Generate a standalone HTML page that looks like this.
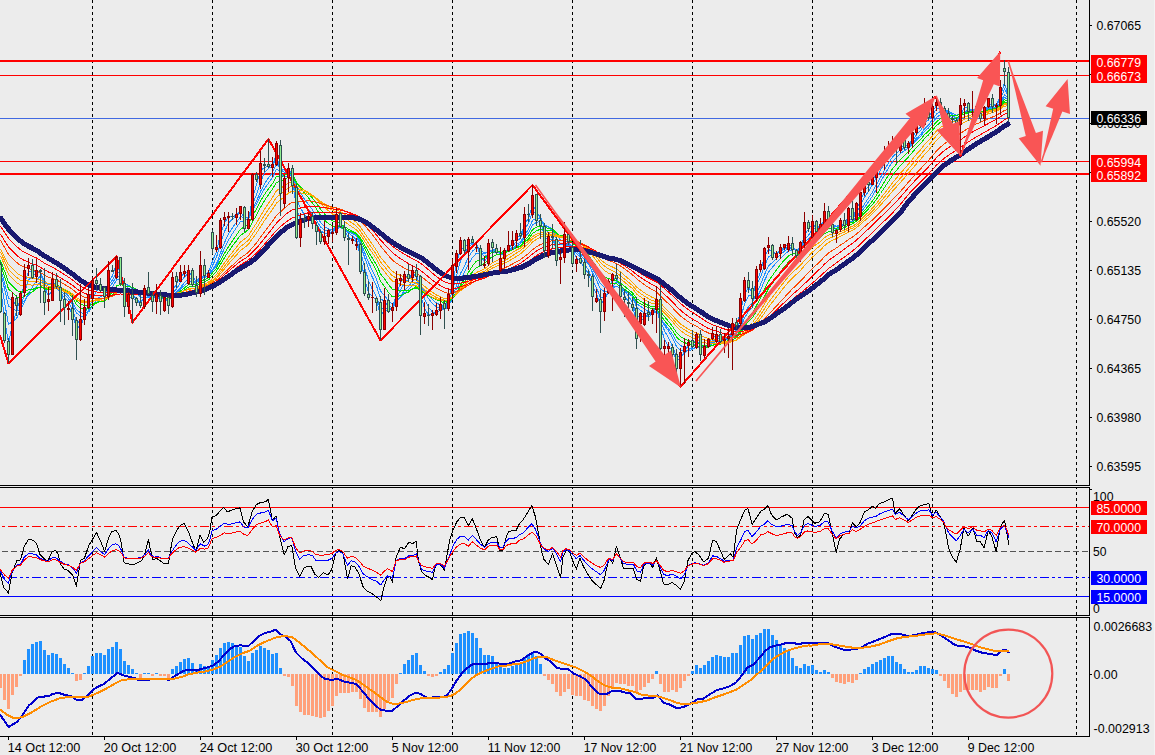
<!DOCTYPE html>
<html><head><meta charset="utf-8"><title>AUDUSD H4</title>
<style>html,body{margin:0;padding:0;background:#ececec;overflow:hidden}svg{display:block}</style></head>
<body>
<svg width="1155" height="755" viewBox="0 0 1155 755" font-family="'Liberation Sans', Arial, sans-serif" font-size="12.4px">
<rect width="1155" height="755" fill="#ececec"/>
<rect x="1154" y="0" width="1" height="755" fill="#f3f3f3"/>
<g stroke="#000" stroke-width="1" stroke-dasharray="3 3" shape-rendering="crispEdges">
<line x1="92.5" y1="0" x2="92.5" y2="485"/>
<line x1="92.5" y1="488" x2="92.5" y2="615" stroke-dashoffset="2"/>
<line x1="92.5" y1="618" x2="92.5" y2="736" stroke-dashoffset="0"/>
<line x1="212.5" y1="0" x2="212.5" y2="485"/>
<line x1="212.5" y1="488" x2="212.5" y2="615" stroke-dashoffset="2"/>
<line x1="212.5" y1="618" x2="212.5" y2="736" stroke-dashoffset="0"/>
<line x1="332.5" y1="0" x2="332.5" y2="485"/>
<line x1="332.5" y1="488" x2="332.5" y2="615" stroke-dashoffset="2"/>
<line x1="332.5" y1="618" x2="332.5" y2="736" stroke-dashoffset="0"/>
<line x1="452.5" y1="0" x2="452.5" y2="485"/>
<line x1="452.5" y1="488" x2="452.5" y2="615" stroke-dashoffset="2"/>
<line x1="452.5" y1="618" x2="452.5" y2="736" stroke-dashoffset="0"/>
<line x1="572.5" y1="0" x2="572.5" y2="485"/>
<line x1="572.5" y1="488" x2="572.5" y2="615" stroke-dashoffset="2"/>
<line x1="572.5" y1="618" x2="572.5" y2="736" stroke-dashoffset="0"/>
<line x1="692.5" y1="0" x2="692.5" y2="485"/>
<line x1="692.5" y1="488" x2="692.5" y2="615" stroke-dashoffset="2"/>
<line x1="692.5" y1="618" x2="692.5" y2="736" stroke-dashoffset="0"/>
<line x1="812.5" y1="0" x2="812.5" y2="485"/>
<line x1="812.5" y1="488" x2="812.5" y2="615" stroke-dashoffset="2"/>
<line x1="812.5" y1="618" x2="812.5" y2="736" stroke-dashoffset="0"/>
<line x1="932.5" y1="0" x2="932.5" y2="485"/>
<line x1="932.5" y1="488" x2="932.5" y2="615" stroke-dashoffset="2"/>
<line x1="932.5" y1="618" x2="932.5" y2="736" stroke-dashoffset="0"/>
<line x1="1076.5" y1="0" x2="1076.5" y2="485"/>
<line x1="1076.5" y1="488" x2="1076.5" y2="615" stroke-dashoffset="2"/>
<line x1="1076.5" y1="618" x2="1076.5" y2="736" stroke-dashoffset="0"/>
</g>
<g shape-rendering="crispEdges">
<rect x="0" y="60" width="1089" height="2" fill="#f00"/>
<rect x="0" y="75" width="1089" height="1" fill="#f00"/>
<rect x="0" y="118" width="1089" height="1" fill="#4169e1"/>
<rect x="0" y="161" width="1089" height="1" fill="#f00"/>
<rect x="0" y="173" width="1089" height="2" fill="#f00"/>
</g>
<g fill="none" stroke-width="1" shape-rendering="crispEdges">
<path d="M0.5,287.8 L4.5,318.5 L8.5,343.4 L12.5,324.0 L16.5,311.4 L20.5,298.0 L24.5,283.6 L28.5,271.4 L32.5,272.3 L36.5,271.7 L40.5,272.5 L44.5,287.4 L48.5,295.8 L52.5,289.5 L56.5,286.4 L60.5,292.7 L64.5,302.2 L68.5,306.7 L72.5,314.2 L76.5,327.9 L80.5,326.2 L84.5,316.7 L88.5,302.7 L92.5,289.4 L96.5,284.8 L100.5,287.3 L104.5,293.2 L108.5,283.0 L112.5,275.6 L116.5,264.2 L120.5,273.3 L124.5,291.3 L128.5,296.6 L132.5,298.4 L136.5,300.0 L140.5,304.0 L144.5,296.8 L148.5,294.2 L152.5,297.3 L156.5,296.6 L160.5,299.5 L164.5,298.4 L168.5,302.7 L172.5,290.2 L176.5,284.2 L180.5,276.4 L184.5,273.4 L188.5,270.9 L192.5,277.7 L196.5,286.7 L200.5,277.8 L204.5,275.0 L208.5,272.3 L212.5,261.1 L216.5,251.6 L220.5,233.6 L224.5,222.9 L228.5,216.9 L232.5,216.6 L236.5,215.4 L240.5,210.6 L244.5,219.0 L248.5,220.4 L252.5,198.3 L256.5,184.6 L260.5,170.7 L264.5,167.5 L268.5,166.2 L272.5,165.3 L276.5,154.0 L280.5,172.0 L284.5,177.4 L288.5,175.7 L292.5,178.9 L296.5,209.1 L300.5,219.8 L304.5,222.3 L308.5,217.4 L312.5,220.1 L316.5,226.6 L320.5,235.4 L324.5,237.1 L328.5,233.9 L332.5,231.8 L336.5,222.3 L340.5,223.1 L344.5,230.4 L348.5,237.5 L352.5,239.4 L356.5,241.5 L360.5,257.2 L364.5,278.3 L368.5,292.3 L372.5,296.6 L376.5,299.9 L380.5,315.2 L384.5,310.3 L388.5,310.8 L392.5,307.2 L396.5,293.6 L400.5,283.1 L404.5,276.2 L408.5,277.2 L412.5,273.8 L416.5,275.0 L420.5,295.4 L424.5,308.0 L428.5,315.3 L432.5,314.1 L436.5,311.9 L440.5,307.4 L444.5,307.4 L448.5,300.9 L452.5,282.4 L456.5,264.3 L460.5,248.8 L464.5,247.9 L468.5,243.3 L472.5,243.0 L476.5,244.5 L480.5,255.7 L484.5,261.8 L488.5,253.9 L492.5,249.4 L496.5,250.0 L500.5,254.9 L504.5,253.2 L508.5,249.0 L512.5,243.5 L516.5,237.4 L520.5,235.7 L524.5,224.6 L528.5,218.3 L532.5,205.0 L536.5,211.3 L540.5,218.8 L544.5,237.5 L548.5,239.3 L552.5,239.6 L556.5,249.1 L560.5,255.2 L564.5,246.4 L568.5,241.8 L572.5,251.3 L576.5,257.5 L580.5,261.6 L584.5,268.2 L588.5,273.3 L592.5,286.0 L596.5,293.9 L600.5,304.6 L604.5,299.9 L608.5,290.0 L612.5,279.7 L616.5,277.7 L620.5,286.9 L624.5,295.6 L628.5,301.8 L632.5,305.5 L636.5,322.7 L640.5,320.9 L644.5,317.5 L648.5,314.1 L652.5,312.0 L656.5,305.1 L660.5,325.9 L664.5,339.5 L668.5,346.8 L672.5,350.7 L676.5,360.6 L680.5,358.4 L684.5,351.7 L688.5,345.0 L692.5,344.9 L696.5,339.4 L700.5,346.6 L704.5,347.2 L708.5,344.4 L712.5,337.5 L716.5,334.8 L720.5,338.1 L724.5,339.2 L728.5,338.0 L732.5,330.1 L736.5,327.0 L740.5,311.9 L744.5,294.1 L748.5,287.5 L752.5,292.4 L756.5,282.4 L760.5,271.8 L764.5,257.0 L768.5,249.3 L772.5,252.2 L776.5,253.5 L780.5,251.2 L784.5,247.1 L788.5,244.6 L792.5,247.0 L796.5,252.2 L800.5,248.3 L804.5,234.6 L808.5,229.2 L812.5,224.0 L816.5,227.8 L820.5,226.2 L824.5,219.1 L828.5,219.4 L832.5,226.2 L836.5,230.1 L840.5,225.5 L844.5,224.9 L848.5,216.4 L852.5,217.4 L856.5,209.8 L860.5,200.8 L864.5,191.0 L868.5,186.5 L872.5,181.1 L876.5,173.2 L880.5,165.1 L884.5,157.2 L888.5,151.0 L892.5,146.0 L896.5,146.5 L900.5,145.6 L904.5,147.0 L908.5,144.9 L912.5,138.2 L916.5,130.5 L920.5,127.0 L924.5,119.0 L928.5,117.6 L932.5,111.1 L936.5,106.0 L940.5,105.6 L944.5,109.4 L948.5,114.6 L952.5,118.1 L956.5,121.8 L960.5,114.0 L964.5,107.4 L968.5,108.1 L972.5,110.5 L976.5,109.2 L980.5,113.7 L984.5,111.1 L988.5,104.8 L992.5,104.3 L996.5,104.5 L1000.5,96.3 L1004.5,82.7 L1008.5,97.6" stroke="#1e90ff"/>
<path d="M0.5,278.8 L4.5,302.0 L8.5,324.5 L12.5,321.4 L16.5,318.7 L20.5,308.9 L24.5,292.7 L28.5,279.7 L32.5,276.8 L36.5,272.6 L40.5,271.8 L44.5,282.5 L48.5,289.4 L52.5,287.6 L56.5,288.5 L60.5,292.7 L64.5,297.5 L68.5,301.8 L72.5,309.8 L76.5,321.4 L80.5,322.6 L84.5,318.8 L88.5,310.6 L92.5,298.6 L96.5,290.8 L100.5,288.9 L104.5,290.8 L108.5,284.5 L112.5,280.1 L116.5,271.5 L120.5,273.8 L124.5,284.0 L128.5,289.1 L132.5,294.4 L136.5,299.3 L140.5,302.3 L144.5,297.9 L148.5,296.5 L152.5,298.0 L156.5,296.2 L160.5,298.1 L164.5,298.5 L168.5,301.2 L172.5,293.5 L176.5,288.9 L180.5,282.2 L184.5,276.9 L188.5,273.0 L192.5,276.4 L196.5,282.1 L200.5,277.7 L204.5,277.2 L208.5,275.4 L212.5,265.5 L216.5,257.3 L220.5,243.4 L224.5,231.6 L228.5,223.2 L232.5,219.0 L236.5,216.0 L240.5,212.4 L244.5,217.5 L248.5,218.4 L252.5,204.1 L256.5,194.6 L260.5,181.9 L264.5,172.8 L268.5,168.3 L272.5,166.2 L276.5,157.9 L280.5,169.0 L284.5,172.6 L288.5,172.3 L292.5,178.0 L296.5,199.2 L300.5,207.9 L304.5,215.1 L308.5,218.2 L312.5,220.8 L316.5,224.0 L320.5,230.4 L324.5,233.5 L328.5,233.7 L332.5,233.3 L336.5,226.5 L340.5,225.2 L344.5,228.9 L348.5,233.0 L352.5,235.9 L356.5,239.9 L360.5,251.5 L364.5,267.1 L368.5,280.5 L372.5,289.6 L376.5,296.9 L380.5,309.2 L384.5,307.8 L388.5,309.9 L392.5,309.4 L396.5,299.1 L400.5,290.0 L404.5,283.0 L408.5,279.4 L412.5,275.0 L416.5,275.3 L420.5,288.8 L424.5,298.6 L428.5,307.1 L432.5,312.0 L436.5,312.8 L440.5,309.6 L444.5,308.9 L448.5,303.5 L452.5,290.0 L456.5,275.7 L460.5,260.7 L464.5,253.6 L468.5,246.3 L472.5,244.0 L476.5,244.6 L480.5,251.7 L484.5,256.6 L488.5,253.8 L492.5,252.4 L496.5,252.3 L500.5,253.3 L504.5,252.2 L508.5,250.4 L512.5,246.8 L516.5,241.3 L520.5,238.2 L524.5,229.3 L528.5,223.2 L532.5,212.3 L536.5,213.0 L540.5,216.0 L544.5,228.3 L548.5,233.1 L552.5,237.3 L556.5,246.1 L560.5,251.0 L564.5,246.3 L568.5,245.2 L572.5,250.8 L576.5,253.3 L580.5,257.1 L584.5,264.7 L588.5,269.9 L592.5,279.7 L596.5,287.8 L600.5,297.8 L604.5,298.2 L608.5,293.6 L612.5,286.4 L616.5,282.1 L620.5,285.0 L624.5,290.3 L628.5,296.4 L632.5,302.1 L636.5,315.7 L640.5,316.9 L644.5,317.1 L648.5,316.9 L652.5,314.2 L656.5,307.9 L660.5,320.9 L664.5,330.7 L668.5,338.1 L672.5,346.5 L676.5,356.4 L680.5,356.2 L684.5,353.4 L688.5,349.6 L692.5,347.5 L696.5,341.7 L700.5,345.4 L704.5,346.0 L708.5,344.3 L712.5,340.6 L716.5,338.2 L720.5,338.3 L724.5,338.2 L728.5,337.7 L732.5,333.1 L736.5,330.3 L740.5,318.7 L744.5,304.0 L748.5,296.0 L752.5,294.4 L756.5,284.6 L760.5,277.1 L764.5,266.4 L768.5,256.8 L772.5,254.5 L776.5,253.1 L780.5,251.0 L784.5,249.1 L788.5,247.0 L792.5,247.2 L796.5,250.0 L800.5,248.0 L804.5,239.6 L808.5,235.2 L812.5,228.8 L816.5,227.9 L820.5,226.2 L824.5,221.5 L828.5,221.3 L832.5,224.9 L836.5,226.8 L840.5,225.2 L844.5,226.2 L848.5,220.1 L852.5,219.0 L856.5,213.1 L860.5,205.4 L864.5,197.2 L868.5,191.5 L872.5,184.7 L876.5,177.4 L880.5,170.3 L884.5,162.8 L888.5,155.8 L892.5,150.0 L896.5,148.1 L900.5,146.2 L904.5,146.5 L908.5,145.3 L912.5,140.7 L916.5,134.8 L920.5,130.8 L924.5,123.1 L928.5,120.0 L932.5,114.4 L936.5,109.2 L940.5,107.5 L944.5,108.7 L948.5,111.6 L952.5,115.1 L956.5,119.2 L960.5,115.4 L964.5,111.2 L968.5,110.6 L972.5,110.1 L976.5,108.5 L980.5,112.3 L984.5,111.2 L988.5,106.8 L992.5,106.4 L996.5,105.4 L1000.5,98.6 L1004.5,89.2 L1008.5,97.1" stroke="#1e90ff"/>
<path d="M0.5,271.5 L4.5,288.6 L8.5,306.2 L12.5,308.2 L16.5,310.9 L20.5,309.4 L24.5,301.9 L28.5,293.1 L32.5,287.0 L36.5,280.1 L40.5,276.0 L44.5,280.7 L48.5,284.3 L52.5,283.8 L56.5,285.6 L60.5,289.9 L64.5,294.7 L68.5,298.7 L72.5,304.4 L76.5,313.0 L80.5,316.2 L84.5,316.2 L88.5,312.5 L92.5,305.4 L96.5,299.9 L100.5,296.4 L104.5,294.7 L108.5,287.9 L112.5,283.1 L116.5,276.6 L120.5,277.4 L124.5,283.3 L128.5,285.6 L132.5,288.8 L136.5,292.7 L140.5,297.2 L144.5,296.9 L148.5,297.3 L152.5,298.5 L156.5,297.2 L160.5,298.3 L164.5,298.0 L168.5,299.8 L172.5,295.1 L176.5,292.1 L180.5,287.3 L184.5,282.7 L188.5,278.8 L192.5,278.7 L196.5,281.0 L200.5,277.2 L204.5,276.8 L208.5,275.8 L212.5,269.8 L216.5,263.9 L220.5,252.9 L224.5,242.6 L228.5,234.0 L232.5,227.7 L236.5,222.2 L240.5,216.6 L244.5,217.9 L248.5,217.6 L252.5,208.1 L256.5,201.2 L260.5,191.6 L264.5,183.9 L268.5,177.8 L272.5,172.4 L276.5,163.6 L280.5,168.3 L284.5,170.2 L288.5,170.1 L292.5,174.2 L296.5,188.9 L300.5,197.6 L304.5,204.9 L308.5,209.9 L312.5,214.6 L316.5,220.5 L320.5,226.9 L324.5,229.9 L328.5,230.4 L332.5,231.4 L336.5,228.2 L340.5,227.9 L344.5,229.9 L348.5,231.9 L352.5,233.5 L356.5,236.1 L360.5,244.8 L364.5,257.0 L368.5,268.6 L372.5,277.5 L376.5,285.9 L380.5,298.3 L384.5,301.8 L388.5,306.2 L392.5,307.5 L396.5,301.8 L400.5,296.3 L404.5,290.5 L408.5,286.4 L412.5,281.0 L416.5,278.7 L420.5,285.6 L424.5,291.7 L428.5,298.6 L432.5,303.6 L436.5,307.0 L440.5,308.1 L444.5,309.5 L448.5,306.6 L452.5,296.9 L456.5,285.9 L460.5,273.6 L464.5,265.8 L468.5,257.1 L472.5,251.1 L476.5,247.9 L480.5,250.2 L484.5,253.1 L488.5,251.5 L492.5,251.4 L496.5,252.1 L500.5,253.8 L504.5,253.1 L508.5,251.3 L512.5,248.3 L516.5,244.5 L520.5,242.2 L524.5,235.3 L528.5,229.5 L532.5,220.3 L536.5,218.5 L540.5,218.5 L544.5,224.7 L548.5,227.4 L552.5,230.6 L556.5,238.6 L560.5,244.5 L564.5,244.4 L568.5,244.7 L572.5,249.2 L576.5,251.7 L580.5,254.8 L584.5,259.9 L588.5,264.1 L592.5,272.5 L596.5,280.2 L600.5,289.0 L604.5,291.8 L608.5,291.2 L612.5,288.5 L616.5,286.4 L620.5,288.2 L624.5,290.3 L628.5,293.1 L632.5,296.6 L636.5,306.8 L640.5,310.3 L644.5,312.8 L648.5,314.7 L652.5,314.3 L656.5,311.3 L660.5,319.3 L664.5,325.6 L668.5,330.8 L672.5,337.7 L676.5,346.5 L680.5,350.2 L684.5,351.3 L688.5,350.6 L692.5,349.7 L696.5,346.0 L700.5,347.4 L704.5,346.6 L708.5,344.6 L712.5,342.0 L716.5,340.1 L720.5,340.3 L724.5,339.7 L728.5,338.7 L732.5,334.8 L736.5,332.6 L740.5,324.7 L744.5,314.0 L748.5,306.5 L752.5,302.5 L756.5,293.1 L760.5,284.7 L764.5,274.6 L768.5,265.9 L772.5,262.3 L776.5,258.6 L780.5,254.5 L784.5,251.0 L788.5,248.7 L792.5,248.4 L796.5,250.0 L800.5,248.4 L804.5,242.4 L808.5,239.0 L812.5,234.3 L816.5,232.7 L820.5,229.8 L824.5,224.7 L828.5,223.1 L832.5,224.8 L836.5,226.1 L840.5,224.8 L844.5,225.2 L848.5,221.6 L852.5,221.2 L856.5,217.1 L860.5,210.8 L864.5,203.9 L868.5,198.1 L872.5,191.9 L876.5,184.5 L880.5,177.4 L884.5,169.9 L888.5,163.1 L892.5,157.0 L896.5,153.4 L900.5,149.9 L904.5,148.2 L908.5,146.1 L912.5,142.4 L916.5,138.1 L920.5,134.8 L924.5,128.8 L928.5,125.2 L932.5,119.5 L936.5,114.1 L940.5,111.3 L944.5,110.5 L948.5,111.5 L952.5,113.1 L956.5,115.8 L960.5,114.0 L964.5,112.1 L968.5,112.2 L972.5,111.9 L976.5,110.4 L980.5,111.8 L984.5,110.6 L988.5,107.8 L992.5,107.6 L996.5,106.8 L1000.5,102.0 L1004.5,94.8 L1008.5,98.5" stroke="#1e90ff"/>
<path d="M0.5,268.2 L4.5,282.8 L8.5,298.1 L12.5,301.1 L16.5,304.8 L20.5,305.1 L24.5,300.6 L28.5,295.0 L32.5,291.5 L36.5,286.4 L40.5,281.7 L44.5,283.2 L48.5,284.4 L52.5,283.3 L56.5,284.1 L60.5,287.6 L64.5,292.2 L68.5,296.2 L72.5,301.6 L76.5,309.7 L80.5,312.9 L84.5,313.2 L88.5,311.0 L92.5,306.4 L96.5,302.4 L100.5,299.7 L104.5,298.1 L108.5,292.0 L112.5,286.9 L116.5,280.0 L120.5,279.5 L124.5,283.5 L128.5,285.2 L132.5,287.8 L136.5,290.9 L140.5,294.3 L144.5,294.2 L148.5,295.3 L152.5,297.5 L156.5,297.5 L160.5,298.4 L164.5,298.1 L168.5,299.6 L172.5,295.8 L176.5,293.0 L180.5,289.0 L184.5,285.3 L188.5,281.8 L192.5,281.2 L196.5,282.4 L200.5,278.7 L204.5,277.4 L208.5,275.9 L212.5,270.9 L216.5,265.9 L220.5,256.8 L224.5,248.2 L228.5,240.2 L232.5,233.5 L236.5,227.5 L240.5,221.6 L244.5,220.8 L248.5,219.0 L252.5,210.3 L256.5,203.9 L260.5,195.6 L264.5,188.7 L268.5,183.0 L272.5,177.5 L276.5,169.3 L280.5,171.4 L284.5,171.0 L288.5,169.9 L292.5,173.0 L296.5,184.9 L300.5,192.6 L304.5,199.2 L308.5,204.3 L312.5,210.0 L316.5,216.1 L320.5,222.3 L324.5,226.6 L328.5,228.8 L332.5,230.2 L336.5,227.6 L340.5,227.8 L344.5,229.8 L348.5,231.9 L352.5,233.3 L356.5,235.3 L360.5,242.1 L364.5,252.3 L368.5,262.3 L372.5,270.9 L376.5,279.4 L380.5,291.0 L384.5,295.5 L388.5,301.0 L392.5,304.2 L396.5,301.3 L400.5,297.6 L404.5,293.0 L408.5,289.7 L412.5,285.1 L416.5,282.2 L420.5,286.6 L424.5,290.9 L428.5,295.7 L432.5,299.7 L436.5,303.1 L440.5,304.9 L444.5,307.0 L448.5,305.8 L452.5,299.2 L456.5,290.5 L460.5,279.8 L464.5,272.3 L468.5,263.8 L472.5,257.5 L476.5,253.1 L480.5,253.1 L484.5,253.6 L488.5,251.2 L492.5,250.7 L496.5,251.3 L500.5,252.9 L504.5,252.7 L508.5,251.7 L512.5,249.5 L516.5,246.2 L520.5,243.7 L524.5,237.7 L528.5,232.8 L532.5,224.9 L536.5,222.3 L540.5,221.3 L544.5,225.3 L548.5,226.8 L552.5,229.0 L556.5,235.1 L560.5,240.1 L564.5,240.8 L568.5,242.4 L572.5,247.3 L576.5,250.3 L580.5,253.3 L584.5,257.8 L588.5,262.0 L592.5,269.2 L596.5,275.6 L600.5,283.7 L604.5,287.5 L608.5,288.2 L612.5,286.9 L616.5,286.3 L620.5,288.4 L624.5,290.7 L628.5,293.2 L632.5,295.9 L636.5,303.7 L640.5,306.4 L644.5,309.1 L648.5,311.6 L652.5,312.6 L656.5,311.1 L660.5,318.1 L664.5,323.8 L668.5,328.7 L672.5,334.4 L676.5,341.7 L680.5,345.5 L684.5,347.4 L688.5,348.1 L692.5,349.0 L696.5,347.0 L700.5,348.2 L704.5,347.7 L708.5,346.1 L712.5,343.3 L716.5,341.2 L720.5,341.0 L724.5,340.4 L728.5,339.4 L732.5,336.3 L736.5,334.2 L740.5,327.2 L744.5,318.0 L748.5,311.4 L752.5,307.4 L756.5,298.8 L760.5,290.5 L764.5,280.7 L768.5,272.0 L772.5,267.1 L776.5,262.5 L780.5,258.3 L784.5,254.5 L788.5,251.1 L792.5,249.7 L796.5,250.2 L800.5,248.6 L804.5,243.9 L808.5,240.9 L812.5,236.6 L816.5,234.8 L820.5,232.1 L824.5,227.6 L828.5,225.7 L832.5,226.0 L836.5,226.2 L840.5,224.9 L844.5,225.1 L848.5,222.2 L852.5,221.7 L856.5,218.1 L860.5,213.1 L864.5,207.4 L868.5,202.0 L872.5,195.9 L876.5,189.0 L880.5,182.1 L884.5,174.8 L888.5,168.1 L892.5,161.6 L896.5,157.4 L900.5,153.4 L904.5,150.8 L908.5,147.9 L912.5,144.0 L916.5,139.8 L920.5,136.5 L924.5,131.3 L928.5,127.9 L932.5,122.8 L936.5,117.6 L940.5,114.4 L944.5,112.7 L948.5,112.6 L952.5,113.4 L956.5,115.1 L960.5,113.5 L964.5,111.9 L968.5,111.9 L972.5,112.0 L976.5,111.1 L980.5,112.3 L984.5,111.2 L988.5,108.6 L992.5,108.0 L996.5,107.0 L1000.5,103.3 L1004.5,97.3 L1008.5,99.9" stroke="#1e90ff"/>
<path d="M0.5,264.0 L4.5,276.1 L8.5,289.0 L12.5,292.6 L16.5,296.7 L20.5,298.3 L24.5,296.2 L28.5,293.2 L32.5,291.7 L36.5,288.9 L40.5,286.6 L44.5,288.1 L48.5,288.6 L52.5,286.1 L56.5,285.2 L60.5,286.6 L64.5,289.8 L68.5,292.8 L72.5,297.5 L76.5,304.6 L80.5,308.2 L84.5,309.5 L88.5,308.7 L92.5,305.6 L96.5,303.0 L100.5,301.4 L104.5,300.6 L108.5,296.1 L112.5,291.9 L116.5,286.0 L120.5,284.4 L124.5,286.1 L128.5,286.1 L132.5,287.4 L136.5,289.5 L140.5,292.1 L144.5,292.2 L148.5,293.0 L152.5,294.8 L156.5,295.3 L160.5,297.0 L164.5,297.7 L168.5,299.3 L172.5,296.6 L176.5,294.3 L180.5,291.1 L184.5,287.9 L188.5,284.8 L192.5,284.0 L196.5,284.5 L200.5,281.2 L204.5,279.6 L208.5,277.8 L212.5,272.9 L216.5,268.3 L220.5,260.6 L224.5,253.4 L228.5,246.7 L232.5,240.8 L236.5,235.1 L240.5,229.1 L244.5,226.9 L248.5,223.9 L252.5,215.6 L256.5,209.0 L260.5,201.0 L264.5,194.4 L268.5,188.8 L272.5,183.7 L276.5,176.4 L280.5,176.8 L284.5,175.4 L288.5,173.2 L292.5,174.1 L296.5,182.1 L300.5,187.6 L304.5,193.1 L308.5,197.7 L312.5,203.1 L316.5,209.0 L320.5,215.4 L324.5,220.3 L328.5,223.6 L332.5,226.2 L336.5,225.9 L340.5,227.0 L344.5,229.0 L348.5,230.8 L352.5,232.3 L356.5,234.3 L360.5,240.0 L364.5,248.1 L368.5,256.2 L372.5,263.4 L376.5,270.8 L380.5,281.2 L384.5,286.5 L388.5,292.6 L392.5,296.9 L396.5,296.6 L400.5,295.6 L404.5,293.7 L408.5,292.0 L412.5,288.7 L416.5,286.4 L420.5,289.4 L424.5,292.1 L428.5,295.1 L432.5,297.6 L436.5,299.9 L440.5,301.1 L444.5,303.1 L448.5,302.9 L452.5,298.6 L456.5,292.7 L460.5,285.1 L464.5,279.3 L468.5,272.2 L472.5,265.9 L476.5,261.1 L480.5,259.4 L484.5,258.0 L488.5,254.5 L492.5,252.4 L496.5,251.6 L500.5,252.1 L504.5,251.9 L508.5,251.2 L512.5,249.8 L516.5,247.5 L520.5,245.7 L524.5,240.9 L528.5,236.5 L532.5,229.7 L536.5,227.1 L540.5,225.6 L544.5,227.8 L548.5,228.1 L552.5,229.0 L556.5,233.1 L560.5,236.7 L564.5,237.2 L568.5,238.7 L572.5,243.0 L576.5,246.5 L580.5,250.0 L584.5,254.8 L588.5,258.8 L592.5,265.1 L596.5,270.8 L600.5,277.8 L604.5,281.5 L608.5,283.0 L612.5,283.2 L616.5,283.9 L620.5,286.5 L624.5,289.2 L628.5,292.1 L632.5,294.9 L636.5,301.4 L640.5,303.8 L644.5,305.8 L648.5,307.7 L652.5,308.8 L656.5,308.5 L660.5,315.0 L664.5,320.6 L668.5,325.3 L672.5,330.5 L676.5,337.1 L680.5,340.6 L684.5,342.7 L688.5,343.9 L692.5,345.5 L696.5,345.0 L700.5,347.3 L704.5,347.9 L708.5,347.3 L712.5,345.2 L716.5,343.4 L720.5,342.7 L724.5,341.7 L728.5,340.5 L732.5,337.9 L736.5,336.0 L740.5,330.4 L744.5,322.9 L748.5,317.0 L752.5,313.0 L756.5,305.5 L760.5,298.1 L764.5,289.4 L768.5,281.1 L772.5,275.4 L776.5,269.9 L780.5,264.6 L784.5,259.9 L788.5,255.9 L792.5,253.6 L796.5,252.8 L800.5,250.4 L804.5,245.8 L808.5,243.0 L812.5,239.3 L816.5,237.6 L820.5,235.0 L824.5,231.0 L828.5,228.9 L832.5,228.7 L836.5,228.2 L840.5,226.5 L844.5,225.8 L848.5,223.0 L852.5,222.3 L856.5,219.5 L860.5,215.3 L864.5,210.5 L868.5,206.0 L872.5,201.0 L876.5,195.0 L880.5,188.5 L884.5,181.7 L888.5,175.1 L892.5,168.8 L896.5,163.9 L900.5,159.3 L904.5,155.6 L908.5,151.9 L912.5,147.6 L916.5,143.2 L920.5,139.6 L924.5,134.6 L928.5,131.2 L932.5,126.6 L936.5,121.9 L940.5,118.7 L944.5,116.6 L948.5,115.7 L952.5,115.3 L956.5,115.9 L960.5,114.0 L964.5,112.3 L968.5,112.0 L972.5,111.8 L976.5,111.1 L980.5,112.1 L984.5,111.5 L988.5,109.7 L992.5,109.1 L996.5,108.1 L1000.5,104.7 L1004.5,99.7 L1008.5,101.4" stroke="#00e000"/>
<path d="M0.5,260.3 L4.5,270.9 L8.5,282.0 L12.5,285.8 L16.5,290.0 L20.5,292.2 L24.5,291.4 L28.5,289.8 L32.5,289.4 L36.5,287.9 L40.5,286.8 L44.5,288.8 L48.5,289.9 L52.5,288.7 L56.5,288.2 L60.5,289.1 L64.5,290.6 L68.5,292.1 L72.5,295.3 L76.5,300.9 L80.5,304.0 L84.5,305.6 L88.5,305.7 L92.5,303.9 L96.5,302.4 L100.5,301.5 L104.5,301.0 L108.5,297.5 L112.5,294.4 L116.5,289.9 L120.5,288.5 L124.5,289.5 L128.5,289.1 L132.5,289.4 L136.5,290.2 L140.5,291.5 L144.5,291.2 L148.5,291.7 L152.5,293.2 L156.5,293.8 L160.5,295.1 L164.5,295.9 L168.5,297.5 L172.5,296.0 L176.5,294.8 L180.5,292.6 L184.5,289.9 L188.5,287.2 L192.5,286.2 L196.5,286.3 L200.5,283.3 L204.5,281.7 L208.5,279.9 L212.5,275.5 L216.5,271.2 L220.5,264.4 L224.5,257.7 L228.5,251.5 L232.5,245.9 L236.5,240.7 L240.5,235.3 L244.5,232.8 L248.5,229.5 L252.5,221.8 L256.5,215.2 L260.5,207.4 L264.5,200.6 L268.5,194.7 L272.5,189.2 L276.5,182.3 L280.5,181.6 L284.5,179.7 L288.5,177.2 L292.5,177.3 L296.5,183.0 L300.5,186.7 L304.5,190.4 L308.5,193.6 L312.5,198.0 L316.5,203.3 L320.5,209.1 L324.5,213.9 L328.5,217.6 L332.5,220.9 L336.5,221.9 L340.5,223.9 L344.5,226.6 L348.5,229.1 L352.5,231.1 L356.5,233.1 L360.5,237.9 L364.5,244.9 L368.5,252.0 L372.5,258.4 L376.5,265.0 L380.5,273.9 L384.5,278.9 L388.5,284.7 L392.5,289.4 L396.5,290.5 L400.5,291.1 L404.5,290.7 L408.5,290.5 L412.5,289.0 L416.5,288.0 L420.5,290.9 L424.5,293.2 L428.5,295.7 L432.5,297.7 L436.5,299.3 L440.5,300.1 L444.5,301.3 L448.5,300.9 L452.5,297.3 L456.5,292.6 L460.5,286.8 L464.5,282.3 L468.5,276.7 L472.5,271.8 L476.5,267.7 L480.5,265.6 L484.5,263.4 L488.5,259.5 L492.5,256.6 L496.5,254.9 L500.5,254.1 L504.5,252.8 L508.5,251.4 L512.5,249.8 L516.5,247.8 L520.5,246.4 L524.5,242.6 L528.5,239.1 L532.5,233.5 L536.5,230.9 L540.5,229.2 L544.5,230.3 L548.5,230.1 L552.5,230.5 L556.5,233.4 L560.5,235.8 L564.5,235.9 L568.5,236.9 L572.5,240.2 L576.5,243.1 L580.5,246.3 L584.5,250.7 L588.5,254.9 L592.5,261.0 L596.5,266.7 L600.5,273.0 L604.5,276.7 L608.5,278.6 L612.5,279.5 L616.5,280.5 L620.5,283.3 L624.5,286.3 L628.5,289.6 L632.5,292.7 L636.5,298.5 L640.5,301.2 L644.5,303.5 L648.5,305.5 L652.5,306.6 L656.5,306.5 L660.5,311.8 L664.5,316.7 L668.5,321.3 L672.5,326.4 L676.5,332.6 L680.5,336.5 L684.5,338.9 L688.5,340.6 L692.5,342.3 L696.5,342.4 L700.5,344.6 L704.5,345.8 L708.5,346.0 L712.5,345.2 L716.5,344.4 L720.5,344.1 L724.5,343.2 L728.5,342.2 L732.5,339.7 L736.5,337.7 L740.5,332.8 L744.5,326.5 L748.5,321.3 L752.5,317.6 L756.5,310.9 L760.5,304.3 L764.5,296.4 L768.5,288.7 L772.5,283.1 L776.5,277.5 L780.5,271.9 L784.5,266.7 L788.5,262.0 L792.5,258.6 L796.5,256.6 L800.5,253.6 L804.5,249.2 L808.5,246.0 L812.5,242.2 L816.5,239.9 L820.5,237.4 L824.5,233.8 L828.5,231.7 L832.5,231.1 L836.5,230.3 L840.5,228.5 L844.5,227.6 L848.5,225.0 L852.5,223.8 L856.5,220.9 L860.5,217.0 L864.5,212.8 L868.5,208.9 L872.5,204.4 L876.5,199.1 L880.5,193.5 L884.5,187.6 L888.5,181.6 L892.5,175.5 L896.5,170.4 L900.5,165.5 L904.5,161.2 L908.5,156.9 L912.5,152.2 L916.5,147.5 L920.5,143.6 L924.5,138.6 L928.5,134.9 L932.5,130.2 L936.5,125.6 L940.5,122.3 L944.5,120.1 L948.5,118.8 L952.5,118.0 L956.5,118.0 L960.5,115.9 L964.5,113.9 L968.5,113.0 L972.5,112.4 L976.5,111.5 L980.5,112.1 L984.5,111.4 L988.5,110.0 L992.5,109.5 L996.5,108.7 L1000.5,106.0 L1004.5,101.9 L1008.5,102.8" stroke="#00e000"/>
<path d="M0.5,255.7 L4.5,264.8 L8.5,274.4 L12.5,278.3 L16.5,282.5 L20.5,285.1 L24.5,285.3 L28.5,284.8 L32.5,285.1 L36.5,284.7 L40.5,284.6 L44.5,286.9 L48.5,288.4 L52.5,288.2 L56.5,288.5 L60.5,289.9 L64.5,291.8 L68.5,293.4 L72.5,295.9 L76.5,299.9 L80.5,301.9 L84.5,302.6 L88.5,302.5 L92.5,301.2 L96.5,300.4 L100.5,300.0 L104.5,300.0 L108.5,297.8 L112.5,295.7 L116.5,292.4 L120.5,291.4 L124.5,292.1 L128.5,291.8 L132.5,292.0 L136.5,292.5 L140.5,293.2 L144.5,292.5 L148.5,292.3 L152.5,292.9 L156.5,292.8 L160.5,293.7 L164.5,294.3 L168.5,295.7 L172.5,294.7 L176.5,293.9 L180.5,292.3 L184.5,290.6 L188.5,288.8 L192.5,288.2 L196.5,288.2 L200.5,285.7 L204.5,284.1 L208.5,282.2 L212.5,278.4 L216.5,274.5 L220.5,268.7 L224.5,262.9 L228.5,257.3 L232.5,252.1 L236.5,247.1 L240.5,241.9 L244.5,239.1 L248.5,235.8 L252.5,229.1 L256.5,223.1 L260.5,216.0 L264.5,209.4 L268.5,203.4 L272.5,197.5 L276.5,190.6 L280.5,188.5 L284.5,185.7 L288.5,182.7 L292.5,181.9 L296.5,185.7 L300.5,188.1 L304.5,190.4 L308.5,192.5 L312.5,195.5 L316.5,199.3 L320.5,203.6 L324.5,207.4 L328.5,210.7 L332.5,214.1 L336.5,215.7 L340.5,218.3 L344.5,221.4 L348.5,224.5 L352.5,227.1 L356.5,229.8 L360.5,234.6 L364.5,240.9 L368.5,247.3 L372.5,253.0 L376.5,258.9 L380.5,266.6 L384.5,271.4 L388.5,276.7 L392.5,281.1 L396.5,282.8 L400.5,284.1 L404.5,284.9 L408.5,285.8 L412.5,285.7 L416.5,286.0 L420.5,289.2 L424.5,292.0 L428.5,294.9 L432.5,297.3 L436.5,299.0 L440.5,299.9 L444.5,300.9 L448.5,300.3 L452.5,297.3 L456.5,293.2 L460.5,288.1 L464.5,284.3 L468.5,279.7 L472.5,275.7 L476.5,272.4 L480.5,270.7 L484.5,268.9 L488.5,265.5 L492.5,262.8 L496.5,260.6 L500.5,259.0 L504.5,257.0 L508.5,254.9 L512.5,252.5 L516.5,250.0 L520.5,248.0 L524.5,244.3 L528.5,241.1 L532.5,236.5 L536.5,234.3 L540.5,232.7 L544.5,233.3 L548.5,232.9 L552.5,232.8 L556.5,234.7 L560.5,236.3 L564.5,236.1 L568.5,236.7 L572.5,239.0 L576.5,241.1 L580.5,243.5 L584.5,247.0 L588.5,250.5 L592.5,255.7 L596.5,260.7 L600.5,266.5 L604.5,270.5 L608.5,273.1 L612.5,274.6 L616.5,276.2 L620.5,279.1 L624.5,282.1 L628.5,285.4 L632.5,288.6 L636.5,293.9 L640.5,296.9 L644.5,299.6 L648.5,301.9 L652.5,303.5 L656.5,304.1 L660.5,308.8 L664.5,313.1 L668.5,317.1 L672.5,321.5 L676.5,326.8 L680.5,330.6 L684.5,333.5 L688.5,335.8 L692.5,338.0 L696.5,338.9 L700.5,341.3 L704.5,342.8 L708.5,343.5 L712.5,343.3 L716.5,343.1 L720.5,343.4 L724.5,343.4 L728.5,343.0 L732.5,341.4 L736.5,340.0 L740.5,335.9 L744.5,330.6 L748.5,326.1 L752.5,322.5 L756.5,316.6 L760.5,310.8 L764.5,304.0 L768.5,297.2 L772.5,291.7 L776.5,286.3 L780.5,280.8 L784.5,275.5 L788.5,270.6 L792.5,266.6 L796.5,263.6 L800.5,259.9 L804.5,255.0 L808.5,251.3 L812.5,247.2 L816.5,244.4 L820.5,241.4 L824.5,237.7 L828.5,235.2 L832.5,234.1 L836.5,233.1 L840.5,231.3 L844.5,230.2 L848.5,227.7 L852.5,226.3 L856.5,223.6 L860.5,220.0 L864.5,216.0 L868.5,212.3 L872.5,208.2 L876.5,203.4 L880.5,198.5 L884.5,193.4 L888.5,188.1 L892.5,182.7 L896.5,178.0 L900.5,173.2 L904.5,168.7 L908.5,164.0 L912.5,159.1 L916.5,154.2 L920.5,149.8 L924.5,144.7 L928.5,140.6 L932.5,135.8 L936.5,131.0 L940.5,127.5 L944.5,124.8 L948.5,123.0 L952.5,121.7 L956.5,121.1 L960.5,119.0 L964.5,116.9 L968.5,115.7 L972.5,114.6 L976.5,113.3 L980.5,113.2 L984.5,112.2 L988.5,110.7 L992.5,110.0 L996.5,109.2 L1000.5,106.9 L1004.5,103.6 L1008.5,104.2" stroke="#ffa500"/>
<path d="M0.5,252.2 L4.5,260.6 L8.5,269.3 L12.5,273.3 L16.5,277.4 L20.5,280.2 L24.5,280.9 L28.5,281.0 L32.5,281.7 L36.5,281.8 L40.5,282.2 L44.5,284.6 L48.5,286.3 L52.5,286.6 L56.5,287.3 L60.5,288.9 L64.5,290.9 L68.5,292.8 L72.5,295.4 L76.5,299.2 L80.5,301.4 L84.5,302.3 L88.5,302.2 L92.5,300.8 L96.5,299.6 L100.5,299.0 L104.5,298.9 L108.5,297.1 L112.5,295.4 L116.5,292.9 L120.5,292.3 L124.5,293.1 L128.5,292.9 L132.5,293.1 L136.5,293.5 L140.5,294.1 L144.5,293.6 L148.5,293.4 L152.5,293.8 L156.5,293.5 L160.5,294.0 L164.5,294.1 L168.5,295.0 L172.5,294.0 L176.5,293.3 L180.5,292.1 L184.5,290.6 L188.5,289.1 L192.5,288.5 L196.5,288.5 L200.5,286.6 L204.5,285.3 L208.5,283.7 L212.5,280.3 L216.5,276.7 L220.5,271.4 L224.5,266.1 L228.5,260.9 L232.5,256.0 L236.5,251.3 L240.5,246.5 L244.5,243.5 L248.5,240.2 L252.5,233.9 L256.5,228.2 L260.5,221.5 L264.5,215.3 L268.5,209.4 L272.5,203.7 L276.5,197.2 L280.5,194.4 L284.5,191.1 L288.5,187.7 L292.5,186.2 L296.5,188.6 L300.5,190.0 L304.5,191.5 L308.5,192.9 L312.5,195.3 L316.5,198.3 L320.5,201.9 L324.5,205.0 L328.5,207.7 L332.5,210.4 L336.5,211.9 L340.5,214.3 L344.5,217.4 L348.5,220.5 L352.5,223.3 L356.5,226.2 L360.5,231.1 L364.5,237.1 L368.5,243.3 L372.5,249.0 L376.5,254.8 L380.5,262.0 L384.5,266.7 L388.5,271.7 L392.5,275.9 L396.5,278.0 L400.5,279.7 L404.5,280.8 L408.5,282.0 L412.5,282.4 L416.5,283.2 L420.5,286.3 L424.5,289.4 L428.5,292.6 L432.5,295.3 L436.5,297.5 L440.5,298.9 L444.5,300.3 L448.5,300.1 L452.5,297.6 L456.5,294.1 L460.5,289.6 L464.5,286.0 L468.5,281.7 L472.5,277.9 L476.5,274.7 L480.5,272.9 L484.5,271.2 L488.5,268.2 L492.5,265.8 L496.5,263.9 L500.5,262.5 L504.5,260.6 L508.5,258.4 L512.5,255.8 L516.5,253.0 L520.5,250.7 L524.5,246.9 L528.5,243.5 L532.5,238.9 L536.5,236.3 L540.5,234.5 L544.5,234.8 L548.5,234.4 L552.5,234.3 L556.5,235.8 L560.5,237.1 L564.5,236.9 L568.5,237.2 L572.5,239.0 L576.5,240.7 L580.5,242.7 L584.5,245.7 L588.5,248.6 L592.5,253.0 L596.5,257.4 L600.5,262.5 L604.5,266.1 L608.5,268.8 L612.5,270.6 L616.5,272.6 L620.5,275.7 L624.5,279.0 L628.5,282.3 L632.5,285.5 L636.5,290.4 L640.5,293.5 L644.5,296.2 L648.5,298.6 L652.5,300.6 L656.5,301.7 L660.5,306.2 L664.5,310.4 L668.5,314.3 L672.5,318.5 L676.5,323.5 L680.5,327.2 L684.5,329.9 L688.5,332.2 L692.5,334.4 L696.5,335.7 L700.5,338.3 L704.5,340.2 L708.5,341.4 L712.5,341.6 L716.5,341.8 L720.5,342.3 L724.5,342.5 L728.5,342.4 L732.5,341.3 L736.5,340.4 L740.5,337.2 L744.5,332.9 L748.5,329.0 L752.5,325.7 L756.5,320.4 L760.5,315.0 L764.5,308.7 L768.5,302.4 L772.5,297.1 L776.5,291.9 L780.5,286.6 L784.5,281.5 L788.5,276.7 L792.5,272.4 L796.5,269.0 L800.5,265.2 L804.5,260.4 L808.5,256.3 L812.5,252.0 L816.5,248.7 L820.5,245.3 L824.5,241.3 L828.5,238.5 L832.5,237.0 L836.5,235.6 L840.5,233.5 L844.5,232.0 L848.5,229.7 L852.5,228.2 L856.5,225.6 L860.5,222.3 L864.5,218.4 L868.5,214.9 L872.5,211.1 L876.5,206.6 L880.5,201.9 L884.5,197.1 L888.5,192.1 L892.5,187.1 L896.5,182.7 L900.5,178.0 L904.5,173.6 L908.5,168.9 L912.5,164.1 L916.5,159.3 L920.5,154.8 L924.5,149.8 L928.5,145.5 L932.5,140.5 L936.5,135.6 L940.5,131.8 L944.5,128.7 L948.5,126.6 L952.5,124.9 L956.5,123.8 L960.5,121.6 L964.5,119.3 L968.5,117.9 L972.5,116.6 L976.5,115.2 L980.5,114.8 L984.5,113.6 L988.5,112.0 L992.5,111.0 L996.5,109.9 L1000.5,107.7 L1004.5,104.7 L1008.5,104.9" stroke="#ffa500"/>
<path d="M0.5,248.8 L4.5,256.6 L8.5,264.7 L12.5,268.6 L16.5,272.7 L20.5,275.6 L24.5,276.7 L28.5,277.3 L32.5,278.3 L36.5,278.7 L40.5,279.6 L44.5,282.0 L48.5,283.8 L52.5,284.5 L56.5,285.5 L60.5,287.3 L64.5,289.4 L68.5,291.4 L72.5,294.0 L76.5,297.7 L80.5,300.1 L84.5,301.3 L88.5,301.6 L92.5,300.7 L96.5,299.9 L100.5,299.2 L104.5,298.7 L108.5,296.8 L112.5,295.2 L116.5,293.0 L120.5,292.4 L124.5,293.2 L128.5,293.2 L132.5,293.5 L136.5,294.0 L140.5,294.6 L144.5,294.2 L148.5,294.1 L152.5,294.4 L156.5,294.3 L160.5,294.7 L164.5,294.7 L168.5,295.3 L172.5,294.3 L176.5,293.4 L180.5,292.1 L184.5,290.7 L188.5,289.3 L192.5,288.8 L196.5,288.7 L200.5,287.0 L204.5,285.8 L208.5,284.3 L212.5,281.4 L216.5,278.3 L220.5,273.7 L224.5,268.8 L228.5,264.0 L232.5,259.5 L236.5,255.0 L240.5,250.5 L244.5,247.6 L248.5,244.2 L252.5,238.5 L256.5,233.1 L260.5,226.8 L264.5,220.6 L268.5,214.9 L272.5,209.3 L276.5,203.1 L280.5,199.9 L284.5,196.6 L288.5,193.0 L292.5,191.1 L296.5,192.4 L300.5,193.0 L304.5,193.6 L308.5,194.3 L312.5,196.0 L316.5,198.3 L320.5,201.2 L324.5,203.8 L328.5,206.0 L332.5,208.4 L336.5,209.7 L340.5,211.7 L344.5,214.3 L348.5,217.0 L352.5,219.6 L356.5,222.6 L360.5,227.2 L364.5,233.0 L368.5,238.9 L372.5,244.6 L376.5,250.4 L380.5,257.3 L384.5,262.0 L388.5,267.1 L392.5,271.4 L396.5,273.7 L400.5,275.5 L404.5,276.9 L408.5,278.4 L412.5,279.2 L416.5,280.2 L420.5,283.2 L424.5,286.3 L428.5,289.5 L432.5,292.4 L436.5,295.0 L440.5,296.8 L444.5,298.6 L448.5,298.8 L452.5,297.2 L456.5,294.4 L460.5,290.8 L464.5,287.5 L468.5,283.7 L472.5,280.2 L476.5,277.1 L480.5,275.2 L484.5,273.2 L488.5,270.4 L492.5,268.0 L496.5,266.2 L500.5,264.9 L504.5,263.2 L508.5,261.3 L512.5,258.9 L516.5,256.3 L520.5,253.9 L524.5,250.2 L528.5,246.6 L532.5,242.1 L536.5,239.2 L540.5,237.0 L544.5,236.6 L548.5,235.8 L552.5,235.4 L556.5,236.6 L560.5,237.7 L564.5,237.5 L568.5,237.9 L572.5,239.4 L576.5,240.8 L580.5,242.5 L584.5,245.0 L588.5,247.6 L592.5,251.4 L596.5,255.2 L600.5,259.6 L604.5,262.9 L608.5,265.3 L612.5,267.0 L616.5,269.0 L620.5,272.0 L624.5,275.3 L628.5,278.8 L632.5,282.2 L636.5,287.0 L640.5,290.1 L644.5,292.9 L648.5,295.4 L652.5,297.5 L656.5,298.9 L660.5,303.1 L664.5,307.3 L668.5,311.3 L672.5,315.4 L676.5,320.2 L680.5,323.9 L684.5,326.8 L688.5,329.2 L692.5,331.4 L696.5,332.7 L700.5,335.2 L704.5,337.2 L708.5,338.7 L712.5,339.5 L716.5,340.0 L720.5,340.8 L724.5,341.3 L728.5,341.5 L732.5,340.7 L736.5,340.0 L740.5,337.5 L744.5,334.0 L748.5,330.7 L752.5,327.9 L756.5,323.3 L760.5,318.6 L764.5,313.0 L768.5,307.1 L772.5,302.0 L776.5,296.9 L780.5,291.8 L784.5,286.8 L788.5,282.1 L792.5,277.8 L796.5,274.3 L800.5,270.4 L804.5,265.6 L808.5,261.5 L812.5,257.1 L816.5,253.6 L820.5,249.9 L824.5,245.7 L828.5,242.5 L832.5,240.4 L836.5,238.6 L840.5,236.2 L844.5,234.5 L848.5,232.0 L852.5,230.3 L856.5,227.6 L860.5,224.4 L864.5,220.7 L868.5,217.4 L872.5,213.8 L876.5,209.5 L880.5,205.1 L884.5,200.6 L888.5,196.0 L892.5,191.2 L896.5,186.8 L900.5,182.3 L904.5,177.8 L908.5,173.2 L912.5,168.5 L916.5,163.8 L920.5,159.5 L924.5,154.7 L928.5,150.4 L932.5,145.4 L936.5,140.4 L940.5,136.5 L944.5,133.1 L948.5,130.7 L952.5,128.6 L956.5,127.1 L960.5,124.6 L964.5,122.2 L968.5,120.5 L972.5,118.8 L976.5,117.3 L980.5,116.5 L984.5,115.3 L988.5,113.6 L992.5,112.5 L996.5,111.3 L1000.5,108.9 L1004.5,106.1 L1008.5,105.9" stroke="#ffa500"/>
<path d="M0.5,240.4 L4.5,247.4 L8.5,254.3 L12.5,258.4 L16.5,262.3 L20.5,265.5 L24.5,267.3 L28.5,268.5 L32.5,270.0 L36.5,271.0 L40.5,272.6 L44.5,275.1 L48.5,277.2 L52.5,278.5 L56.5,280.0 L60.5,282.1 L64.5,284.5 L68.5,286.7 L72.5,289.4 L76.5,292.8 L80.5,295.4 L84.5,297.1 L88.5,298.1 L92.5,298.2 L96.5,298.2 L100.5,298.1 L104.5,298.1 L108.5,297.0 L112.5,296.0 L116.5,294.5 L120.5,294.0 L124.5,294.1 L128.5,293.8 L132.5,293.7 L136.5,293.9 L140.5,294.2 L144.5,294.1 L148.5,294.2 L152.5,294.6 L156.5,294.8 L160.5,295.2 L164.5,295.4 L168.5,296.0 L172.5,295.5 L176.5,294.8 L180.5,293.8 L184.5,292.6 L188.5,291.2 L192.5,290.3 L196.5,289.7 L200.5,288.1 L204.5,286.8 L208.5,285.2 L212.5,282.7 L216.5,280.1 L220.5,276.5 L224.5,272.7 L228.5,268.9 L232.5,265.2 L236.5,261.5 L240.5,257.9 L244.5,255.2 L248.5,252.2 L252.5,247.5 L256.5,242.8 L260.5,237.3 L264.5,231.8 L268.5,226.4 L272.5,221.1 L276.5,215.5 L280.5,211.8 L284.5,208.1 L288.5,204.6 L292.5,202.3 L296.5,202.1 L300.5,201.6 L304.5,201.2 L308.5,200.8 L312.5,201.3 L316.5,202.2 L320.5,203.5 L324.5,204.7 L328.5,205.8 L332.5,207.1 L336.5,207.9 L340.5,209.1 L344.5,210.9 L348.5,212.8 L352.5,214.8 L356.5,217.0 L360.5,220.6 L364.5,225.0 L368.5,230.0 L372.5,234.9 L376.5,240.0 L380.5,246.0 L384.5,250.8 L388.5,255.7 L392.5,260.1 L396.5,263.2 L400.5,265.8 L404.5,268.1 L408.5,270.2 L412.5,271.7 L416.5,273.4 L420.5,276.2 L424.5,279.1 L428.5,282.3 L432.5,285.3 L436.5,288.2 L440.5,290.3 L444.5,292.4 L448.5,293.3 L452.5,292.9 L456.5,291.5 L460.5,289.5 L464.5,287.6 L468.5,285.2 L472.5,282.9 L476.5,280.8 L480.5,279.2 L484.5,277.5 L488.5,275.1 L492.5,273.0 L496.5,271.1 L500.5,269.6 L504.5,268.0 L508.5,266.1 L512.5,264.0 L516.5,261.7 L520.5,259.6 L524.5,256.6 L528.5,253.6 L532.5,249.7 L536.5,246.8 L540.5,244.4 L544.5,243.0 L548.5,241.6 L552.5,240.5 L556.5,240.5 L560.5,240.5 L564.5,239.9 L568.5,239.8 L572.5,240.5 L576.5,241.5 L580.5,242.7 L584.5,244.7 L588.5,246.7 L592.5,249.7 L596.5,252.6 L600.5,255.8 L604.5,258.4 L608.5,260.5 L612.5,261.8 L616.5,263.5 L620.5,265.9 L624.5,268.7 L628.5,271.7 L632.5,274.8 L636.5,278.7 L640.5,281.8 L644.5,284.8 L648.5,287.4 L652.5,289.8 L656.5,291.9 L660.5,295.9 L664.5,299.9 L668.5,303.7 L672.5,307.7 L676.5,312.2 L680.5,316.0 L684.5,319.1 L688.5,321.9 L692.5,324.3 L696.5,326.2 L700.5,328.9 L704.5,331.1 L708.5,333.0 L712.5,334.1 L716.5,335.1 L720.5,336.1 L724.5,336.9 L728.5,337.7 L732.5,337.7 L736.5,337.7 L740.5,336.4 L744.5,334.3 L748.5,332.1 L752.5,330.1 L756.5,326.7 L760.5,323.1 L764.5,319.1 L768.5,314.5 L772.5,310.3 L776.5,306.0 L780.5,301.7 L784.5,297.3 L788.5,293.0 L792.5,288.7 L796.5,285.0 L800.5,281.2 L804.5,276.8 L808.5,272.8 L812.5,268.6 L816.5,264.8 L820.5,260.9 L824.5,256.7 L828.5,253.1 L832.5,250.4 L836.5,247.9 L840.5,245.0 L844.5,242.5 L848.5,239.5 L852.5,237.0 L856.5,234.0 L860.5,230.5 L864.5,226.8 L868.5,223.3 L872.5,219.9 L876.5,216.0 L880.5,211.9 L884.5,208.0 L888.5,204.0 L892.5,199.7 L896.5,195.7 L900.5,191.4 L904.5,186.8 L908.5,182.0 L912.5,177.6 L916.5,173.1 L920.5,169.0 L924.5,164.5 L928.5,160.4 L932.5,155.7 L936.5,151.0 L940.5,147.1 L944.5,143.7 L948.5,140.9 L952.5,138.4 L956.5,136.2 L960.5,133.4 L964.5,130.6 L968.5,128.2 L972.5,125.9 L976.5,123.8 L980.5,122.3 L984.5,120.5 L988.5,118.5 L992.5,117.0 L996.5,115.3 L1000.5,112.9 L1004.5,110.3 L1008.5,109.4" stroke="#ff4500"/>
<path d="M0.5,234.1 L4.5,240.7 L8.5,247.0 L12.5,251.2 L16.5,255.1 L20.5,258.4 L24.5,260.5 L28.5,262.2 L32.5,263.9 L36.5,265.3 L40.5,267.3 L44.5,269.8 L48.5,272.0 L52.5,273.7 L56.5,275.5 L60.5,277.7 L64.5,280.2 L68.5,282.6 L72.5,285.3 L76.5,288.6 L80.5,291.4 L84.5,293.3 L88.5,294.7 L92.5,295.3 L96.5,295.7 L100.5,295.9 L104.5,296.1 L108.5,295.6 L112.5,295.1 L116.5,294.2 L120.5,294.0 L124.5,294.2 L128.5,294.1 L132.5,294.2 L136.5,294.4 L140.5,294.7 L144.5,294.6 L148.5,294.5 L152.5,294.6 L156.5,294.5 L160.5,294.8 L164.5,295.1 L168.5,295.6 L172.5,295.5 L176.5,295.1 L180.5,294.5 L184.5,293.5 L188.5,292.4 L192.5,291.5 L196.5,290.8 L200.5,289.4 L204.5,288.1 L208.5,286.6 L212.5,284.2 L216.5,281.6 L220.5,278.2 L224.5,274.7 L228.5,271.2 L232.5,267.8 L236.5,264.4 L240.5,261.3 L244.5,258.8 L248.5,256.1 L252.5,252.2 L256.5,248.2 L260.5,243.3 L264.5,238.3 L268.5,233.3 L272.5,228.2 L276.5,223.1 L280.5,219.2 L284.5,215.6 L288.5,212.1 L292.5,209.8 L296.5,208.9 L300.5,208.0 L304.5,207.0 L308.5,206.1 L312.5,206.1 L316.5,206.4 L320.5,207.1 L324.5,207.7 L328.5,208.3 L332.5,209.0 L336.5,209.4 L340.5,210.1 L344.5,211.1 L348.5,212.3 L352.5,213.7 L356.5,215.4 L360.5,218.2 L364.5,221.9 L368.5,226.1 L372.5,230.3 L376.5,234.9 L380.5,240.0 L384.5,244.3 L388.5,248.7 L392.5,252.7 L396.5,255.8 L400.5,258.6 L404.5,261.2 L408.5,263.6 L412.5,265.6 L416.5,267.7 L420.5,270.5 L424.5,273.6 L428.5,277.0 L432.5,280.2 L436.5,283.2 L440.5,285.7 L444.5,287.9 L448.5,289.0 L452.5,289.0 L456.5,288.3 L460.5,286.9 L464.5,285.5 L468.5,283.8 L472.5,282.1 L476.5,280.5 L480.5,279.4 L484.5,278.1 L488.5,276.3 L492.5,274.8 L496.5,273.4 L500.5,272.2 L504.5,270.8 L508.5,269.3 L512.5,267.3 L516.5,265.2 L520.5,263.2 L524.5,260.3 L528.5,257.4 L532.5,253.9 L536.5,251.0 L540.5,248.6 L544.5,247.0 L548.5,245.7 L552.5,244.6 L556.5,244.3 L560.5,244.0 L564.5,243.3 L568.5,242.9 L572.5,243.0 L576.5,243.5 L580.5,244.1 L584.5,245.5 L588.5,247.0 L592.5,249.3 L596.5,251.6 L600.5,254.2 L604.5,256.5 L608.5,258.4 L612.5,259.7 L616.5,261.2 L620.5,263.3 L624.5,265.8 L628.5,268.5 L632.5,271.2 L636.5,274.5 L640.5,277.4 L644.5,280.0 L648.5,282.4 L652.5,284.7 L656.5,286.8 L660.5,290.4 L664.5,294.3 L668.5,298.1 L672.5,301.9 L676.5,306.3 L680.5,310.2 L684.5,313.6 L688.5,316.5 L692.5,319.0 L696.5,321.2 L700.5,323.8 L704.5,326.3 L708.5,328.5 L712.5,330.0 L716.5,331.3 L720.5,332.6 L724.5,333.7 L728.5,334.7 L732.5,335.0 L736.5,335.3 L740.5,334.4 L744.5,333.1 L748.5,331.4 L752.5,329.8 L756.5,327.2 L760.5,324.4 L764.5,321.3 L768.5,317.5 L772.5,313.8 L776.5,310.0 L780.5,306.1 L784.5,302.3 L788.5,298.4 L792.5,294.6 L796.5,291.1 L800.5,287.6 L804.5,283.7 L808.5,280.0 L812.5,275.9 L816.5,272.1 L820.5,268.3 L824.5,264.2 L828.5,260.4 L832.5,257.6 L836.5,254.9 L840.5,251.9 L844.5,249.1 L848.5,246.0 L852.5,243.3 L856.5,240.1 L860.5,236.4 L864.5,232.5 L868.5,228.9 L872.5,225.2 L876.5,221.2 L880.5,217.2 L884.5,213.4 L888.5,209.5 L892.5,205.4 L896.5,201.4 L900.5,197.1 L904.5,192.4 L908.5,187.7 L912.5,183.3 L916.5,179.1 L920.5,175.2 L924.5,170.9 L928.5,166.9 L932.5,162.3 L936.5,157.7 L940.5,153.9 L944.5,150.4 L948.5,147.6 L952.5,145.0 L956.5,142.8 L960.5,140.0 L964.5,137.1 L968.5,134.5 L972.5,132.0 L976.5,129.7 L980.5,127.7 L984.5,125.6 L988.5,123.4 L992.5,121.4 L996.5,119.3 L1000.5,116.7 L1004.5,114.1 L1008.5,112.6" stroke="#ff0000"/>
<path d="M0.5,226.1 L4.5,232.3 L8.5,238.2 L12.5,242.4 L16.5,246.4 L20.5,249.9 L24.5,252.3 L28.5,254.4 L32.5,256.3 L36.5,258.0 L40.5,260.5 L44.5,263.1 L48.5,265.4 L52.5,267.4 L56.5,269.5 L60.5,271.9 L64.5,274.6 L68.5,277.2 L72.5,279.9 L76.5,283.2 L80.5,286.1 L84.5,288.3 L88.5,290.1 L92.5,291.1 L96.5,291.9 L100.5,292.4 L104.5,292.8 L108.5,292.8 L112.5,292.8 L116.5,292.6 L120.5,292.6 L124.5,292.9 L128.5,293.0 L132.5,293.3 L136.5,293.7 L140.5,294.0 L144.5,294.2 L148.5,294.4 L152.5,294.7 L156.5,294.8 L160.5,295.1 L164.5,295.3 L168.5,295.6 L172.5,295.6 L176.5,295.2 L180.5,294.7 L184.5,293.8 L188.5,293.0 L192.5,292.2 L196.5,291.4 L200.5,290.4 L204.5,289.2 L208.5,287.7 L212.5,285.6 L216.5,283.3 L220.5,280.4 L224.5,277.3 L228.5,274.1 L232.5,271.0 L236.5,267.8 L240.5,265.0 L244.5,262.4 L248.5,259.9 L252.5,256.6 L256.5,253.0 L260.5,248.8 L264.5,244.2 L268.5,239.6 L272.5,235.0 L276.5,230.5 L280.5,226.7 L284.5,223.3 L288.5,220.1 L292.5,217.9 L296.5,216.5 L300.5,215.3 L304.5,213.9 L308.5,212.7 L312.5,212.3 L316.5,212.2 L320.5,212.2 L324.5,212.3 L328.5,212.4 L332.5,212.6 L336.5,212.7 L340.5,213.0 L344.5,213.5 L348.5,214.2 L352.5,215.0 L356.5,216.1 L360.5,218.1 L364.5,220.7 L368.5,223.9 L372.5,227.4 L376.5,231.2 L380.5,235.2 L384.5,239.0 L388.5,242.8 L392.5,246.2 L396.5,249.2 L400.5,251.8 L404.5,254.2 L408.5,256.5 L412.5,258.6 L416.5,260.8 L420.5,263.2 L424.5,266.3 L428.5,269.8 L432.5,273.2 L436.5,276.5 L440.5,279.3 L444.5,281.8 L448.5,283.3 L452.5,283.9 L456.5,283.8 L460.5,283.1 L464.5,282.3 L468.5,281.1 L472.5,280.0 L476.5,278.9 L480.5,278.0 L484.5,276.9 L488.5,275.7 L492.5,274.5 L496.5,273.6 L500.5,272.8 L504.5,272.0 L508.5,271.0 L512.5,269.5 L516.5,268.0 L520.5,266.4 L524.5,264.1 L528.5,261.6 L532.5,258.5 L536.5,255.7 L540.5,253.3 L544.5,251.3 L548.5,249.9 L552.5,248.7 L556.5,248.0 L560.5,247.5 L564.5,246.9 L568.5,246.6 L572.5,246.5 L576.5,246.8 L580.5,247.2 L584.5,248.1 L588.5,249.2 L592.5,250.8 L596.5,252.4 L600.5,254.2 L604.5,255.8 L608.5,257.3 L612.5,258.2 L616.5,259.4 L620.5,261.1 L624.5,263.3 L628.5,265.8 L632.5,268.2 L636.5,270.9 L640.5,273.5 L644.5,275.9 L648.5,278.0 L652.5,280.0 L656.5,282.0 L660.5,285.1 L664.5,288.6 L668.5,292.1 L672.5,295.6 L676.5,299.6 L680.5,303.4 L684.5,306.7 L688.5,309.8 L692.5,312.4 L696.5,314.9 L700.5,317.7 L704.5,320.4 L708.5,322.9 L712.5,324.7 L716.5,326.2 L720.5,327.7 L724.5,329.0 L728.5,330.3 L732.5,331.1 L736.5,331.8 L740.5,331.5 L744.5,331.0 L748.5,329.9 L752.5,328.7 L756.5,326.6 L760.5,324.5 L764.5,322.1 L768.5,319.0 L772.5,315.8 L776.5,312.6 L780.5,309.4 L784.5,306.1 L788.5,302.8 L792.5,299.4 L796.5,296.1 L800.5,293.0 L804.5,289.8 L808.5,286.5 L812.5,282.9 L816.5,279.5 L820.5,275.9 L824.5,272.2 L828.5,268.6 L832.5,265.7 L836.5,262.9 L840.5,259.8 L844.5,256.9 L848.5,253.9 L852.5,250.9 L856.5,247.7 L860.5,244.0 L864.5,240.0 L868.5,236.3 L872.5,232.7 L876.5,228.6 L880.5,224.6 L884.5,220.8 L888.5,216.9 L892.5,212.9 L896.5,208.7 L900.5,204.3 L904.5,199.3 L908.5,194.3 L912.5,190.0 L916.5,185.8 L920.5,181.9 L924.5,177.9 L928.5,173.9 L932.5,169.6 L936.5,165.1 L940.5,161.5 L944.5,158.0 L948.5,155.2 L952.5,152.6 L956.5,150.2 L960.5,147.5 L964.5,144.6 L968.5,141.9 L972.5,139.2 L976.5,136.8 L980.5,134.6 L984.5,132.3 L988.5,130.0 L992.5,127.8 L996.5,125.4 L1000.5,122.6 L1004.5,119.9 L1008.5,117.8" stroke="#ff0000"/>
</g>
<path d="M0.0,216.8 L7.3,227.7 L14.6,235.7 L21.9,242.3 L29.2,246.6 L36.4,250.3 L43.7,255.4 L51.0,259.8 L58.3,264.1 L65.6,269.2 L72.9,274.3 L80.2,280.2 L87.5,284.5 L94.8,287.2 L102.0,288.5 L114.6,289.8 L129.2,290.9 L143.7,292.7 L158.3,294.1 L172.9,295.6 L180.2,295.3 L187.5,294.1 L194.8,292.4 L202.0,290.5 L207.3,288.7 L214.6,285.3 L221.9,280.9 L229.2,275.8 L236.4,270.7 L243.7,266.3 L251.0,262.0 L258.3,256.1 L265.6,248.1 L272.9,240.1 L280.2,232.8 L287.5,227.0 L294.8,223.3 L302.0,221.0 L307.3,218.8 L314.6,218.0 L321.9,217.4 L329.2,217.0 L336.4,217.0 L343.7,217.0 L351.0,217.4 L358.3,218.7 L365.6,222.1 L372.9,227.2 L380.2,233.0 L387.5,238.8 L394.8,243.9 L402.0,248.1 L407.3,250.8 L414.6,254.5 L421.9,258.1 L429.2,263.9 L436.4,269.8 L443.7,274.9 L451.0,277.8 L458.3,278.5 L465.6,277.8 L472.9,276.8 L480.2,275.6 L487.5,274.1 L494.8,272.7 L502.0,271.8 L507.3,271.2 L514.6,269.2 L521.9,267.1 L529.2,263.4 L536.4,259.0 L543.7,255.1 L551.0,252.8 L558.3,251.3 L565.6,250.3 L572.9,249.6 L580.2,249.9 L587.5,251.3 L594.8,253.6 L602.0,255.9 L607.3,257.8 L614.6,259.0 L621.9,261.1 L629.2,264.8 L636.4,268.4 L643.7,272.4 L651.0,275.7 L658.3,279.4 L665.6,285.2 L672.9,291.0 L680.2,297.6 L687.5,303.4 L694.8,307.8 L702.0,312.5 L707.3,316.3 L714.6,320.0 L721.9,322.9 L729.2,325.8 L736.4,327.6 L743.7,328.0 L751.0,327.0 L758.3,324.3 L765.6,321.4 L772.9,316.3 L780.2,311.2 L787.5,306.1 L794.8,300.3 L802.0,295.5 L808.0,291.5 L814.6,286.4 L821.9,280.5 L829.2,274.3 L836.4,269.7 L843.7,264.5 L851.0,259.4 L858.3,253.6 L865.6,246.3 L872.9,239.8 L880.2,232.5 L887.5,225.9 L894.8,218.6 L902.0,210.5 L907.3,203.0 L914.6,194.8 L921.9,187.5 L929.2,180.2 L936.4,172.2 L943.7,165.6 L951.0,160.5 L958.3,156.1 L965.6,151.0 L972.9,145.9 L980.2,141.5 L987.5,137.2 L994.8,132.8 L1002.0,127.7 L1010.0,122.8" fill="none" stroke="#191970" stroke-width="5" stroke-linejoin="round" stroke-linecap="butt" shape-rendering="crispEdges"/>
<path d="M0.0,335.0 L8.5,363.3 L116.5,256.3 L132.5,322.5 L268.5,139.0 L380.5,340.4 L532.5,185.0 L680.5,386.7 L935.5,96.7 L960.5,155.5 L1000.3,51.5" fill="none" stroke="#f00" stroke-width="2" stroke-linejoin="round" shape-rendering="crispEdges"/>
<g shape-rendering="crispEdges">
<rect x="0" y="262" width="1" height="51" fill="#2f4f4f"/>
<rect x="-1" y="264" width="3" height="48" fill="#2f4f4f"/>
<rect x="0" y="265" width="1" height="46" fill="#90ee90"/>
<rect x="4" y="312" width="1" height="31" fill="#2f4f4f"/>
<rect x="3" y="313" width="3" height="28" fill="#2f4f4f"/>
<rect x="4" y="314" width="1" height="26" fill="#90ee90"/>
<rect x="8" y="338" width="1" height="25" fill="#2f4f4f"/>
<rect x="7" y="341" width="3" height="14" fill="#2f4f4f"/>
<rect x="8" y="342" width="1" height="12" fill="#90ee90"/>
<rect x="12" y="292" width="1" height="63" fill="#8b0000"/>
<rect x="11" y="297" width="3" height="58" fill="#8b0000"/>
<rect x="12" y="298" width="1" height="56" fill="#ff0000"/>
<rect x="16" y="295" width="1" height="21" fill="#2f4f4f"/>
<rect x="15" y="298" width="3" height="8" fill="#2f4f4f"/>
<rect x="16" y="299" width="1" height="6" fill="#90ee90"/>
<rect x="20" y="291" width="1" height="25" fill="#8b0000"/>
<rect x="19" y="293" width="3" height="22" fill="#8b0000"/>
<rect x="20" y="294" width="1" height="20" fill="#ff0000"/>
<rect x="24" y="264" width="1" height="33" fill="#8b0000"/>
<rect x="23" y="270" width="3" height="23" fill="#8b0000"/>
<rect x="24" y="271" width="1" height="21" fill="#ff0000"/>
<rect x="28" y="258" width="1" height="18" fill="#8b0000"/>
<rect x="27" y="265" width="3" height="4" fill="#8b0000"/>
<rect x="28" y="266" width="1" height="2" fill="#ff0000"/>
<rect x="32" y="259" width="1" height="20" fill="#2f4f4f"/>
<rect x="31" y="265" width="3" height="13" fill="#2f4f4f"/>
<rect x="32" y="266" width="1" height="11" fill="#90ee90"/>
<rect x="36" y="259" width="1" height="24" fill="#8b0000"/>
<rect x="35" y="270" width="3" height="7" fill="#8b0000"/>
<rect x="36" y="271" width="1" height="5" fill="#ff0000"/>
<rect x="40" y="269" width="1" height="34" fill="#2f4f4f"/>
<rect x="39" y="270" width="3" height="2" fill="#2f4f4f"/>
<rect x="44" y="268" width="1" height="47" fill="#2f4f4f"/>
<rect x="43" y="291" width="3" height="12" fill="#2f4f4f"/>
<rect x="44" y="292" width="1" height="10" fill="#90ee90"/>
<rect x="48" y="287" width="1" height="24" fill="#8b0000"/>
<rect x="47" y="299" width="3" height="3" fill="#8b0000"/>
<rect x="48" y="300" width="1" height="1" fill="#ff0000"/>
<rect x="52" y="272" width="1" height="29" fill="#8b0000"/>
<rect x="51" y="279" width="3" height="22" fill="#8b0000"/>
<rect x="52" y="280" width="1" height="20" fill="#ff0000"/>
<rect x="56" y="273" width="1" height="16" fill="#2f4f4f"/>
<rect x="55" y="279" width="3" height="8" fill="#2f4f4f"/>
<rect x="56" y="280" width="1" height="6" fill="#90ee90"/>
<rect x="60" y="279" width="1" height="43" fill="#2f4f4f"/>
<rect x="59" y="287" width="3" height="14" fill="#2f4f4f"/>
<rect x="60" y="288" width="1" height="12" fill="#90ee90"/>
<rect x="64" y="292" width="1" height="33" fill="#2f4f4f"/>
<rect x="63" y="299" width="3" height="9" fill="#2f4f4f"/>
<rect x="64" y="300" width="1" height="7" fill="#90ee90"/>
<rect x="68" y="301" width="1" height="19" fill="#8b0000"/>
<rect x="67" y="308" width="3" height="2" fill="#8b0000"/>
<rect x="72" y="295" width="1" height="41" fill="#2f4f4f"/>
<rect x="71" y="308" width="3" height="12" fill="#2f4f4f"/>
<rect x="72" y="309" width="1" height="10" fill="#90ee90"/>
<rect x="76" y="317" width="1" height="43" fill="#2f4f4f"/>
<rect x="75" y="320" width="3" height="20" fill="#2f4f4f"/>
<rect x="76" y="321" width="1" height="18" fill="#90ee90"/>
<rect x="80" y="284" width="1" height="57" fill="#8b0000"/>
<rect x="79" y="319" width="3" height="21" fill="#8b0000"/>
<rect x="80" y="320" width="1" height="19" fill="#ff0000"/>
<rect x="84" y="299" width="1" height="26" fill="#8b0000"/>
<rect x="83" y="307" width="3" height="13" fill="#8b0000"/>
<rect x="84" y="308" width="1" height="11" fill="#ff0000"/>
<rect x="88" y="288" width="1" height="21" fill="#8b0000"/>
<rect x="87" y="294" width="3" height="14" fill="#8b0000"/>
<rect x="88" y="295" width="1" height="12" fill="#ff0000"/>
<rect x="92" y="277" width="1" height="29" fill="#8b0000"/>
<rect x="91" y="280" width="3" height="19" fill="#8b0000"/>
<rect x="92" y="281" width="1" height="17" fill="#ff0000"/>
<rect x="96" y="268" width="1" height="22" fill="#2f4f4f"/>
<rect x="95" y="280" width="3" height="4" fill="#2f4f4f"/>
<rect x="96" y="281" width="1" height="2" fill="#90ee90"/>
<rect x="100" y="278" width="1" height="14" fill="#2f4f4f"/>
<rect x="99" y="284" width="3" height="7" fill="#2f4f4f"/>
<rect x="100" y="285" width="1" height="5" fill="#90ee90"/>
<rect x="104" y="286" width="1" height="22" fill="#2f4f4f"/>
<rect x="103" y="287" width="3" height="10" fill="#2f4f4f"/>
<rect x="104" y="288" width="1" height="8" fill="#90ee90"/>
<rect x="108" y="261" width="1" height="39" fill="#8b0000"/>
<rect x="107" y="270" width="3" height="27" fill="#8b0000"/>
<rect x="108" y="271" width="1" height="25" fill="#ff0000"/>
<rect x="112" y="265" width="1" height="7" fill="#2f4f4f"/>
<rect x="111" y="270" width="3" height="2" fill="#2f4f4f"/>
<rect x="116" y="256" width="1" height="23" fill="#8b0000"/>
<rect x="115" y="257" width="3" height="21" fill="#8b0000"/>
<rect x="116" y="258" width="1" height="19" fill="#ff0000"/>
<rect x="120" y="257" width="1" height="29" fill="#2f4f4f"/>
<rect x="119" y="257" width="3" height="27" fill="#2f4f4f"/>
<rect x="120" y="258" width="1" height="25" fill="#90ee90"/>
<rect x="124" y="278" width="1" height="39" fill="#2f4f4f"/>
<rect x="123" y="283" width="3" height="24" fill="#2f4f4f"/>
<rect x="124" y="284" width="1" height="22" fill="#90ee90"/>
<rect x="128" y="292" width="1" height="22" fill="#8b0000"/>
<rect x="127" y="294" width="3" height="13" fill="#8b0000"/>
<rect x="128" y="295" width="1" height="11" fill="#ff0000"/>
<rect x="132" y="283" width="1" height="40" fill="#2f4f4f"/>
<rect x="131" y="294" width="3" height="5" fill="#2f4f4f"/>
<rect x="132" y="295" width="1" height="3" fill="#90ee90"/>
<rect x="136" y="297" width="1" height="9" fill="#2f4f4f"/>
<rect x="135" y="298" width="3" height="5" fill="#2f4f4f"/>
<rect x="136" y="299" width="1" height="3" fill="#90ee90"/>
<rect x="140" y="295" width="1" height="13" fill="#2f4f4f"/>
<rect x="139" y="302" width="3" height="4" fill="#2f4f4f"/>
<rect x="140" y="303" width="1" height="2" fill="#90ee90"/>
<rect x="144" y="285" width="1" height="24" fill="#8b0000"/>
<rect x="143" y="288" width="3" height="19" fill="#8b0000"/>
<rect x="144" y="289" width="1" height="17" fill="#ff0000"/>
<rect x="148" y="272" width="1" height="23" fill="#2f4f4f"/>
<rect x="147" y="287" width="3" height="7" fill="#2f4f4f"/>
<rect x="148" y="288" width="1" height="5" fill="#90ee90"/>
<rect x="152" y="291" width="1" height="21" fill="#2f4f4f"/>
<rect x="151" y="295" width="3" height="7" fill="#2f4f4f"/>
<rect x="152" y="296" width="1" height="5" fill="#90ee90"/>
<rect x="156" y="284" width="1" height="30" fill="#8b0000"/>
<rect x="155" y="294" width="3" height="8" fill="#8b0000"/>
<rect x="156" y="295" width="1" height="6" fill="#ff0000"/>
<rect x="160" y="290" width="1" height="25" fill="#2f4f4f"/>
<rect x="159" y="295" width="3" height="7" fill="#2f4f4f"/>
<rect x="160" y="296" width="1" height="5" fill="#90ee90"/>
<rect x="164" y="297" width="1" height="15" fill="#8b0000"/>
<rect x="163" y="297" width="3" height="14" fill="#8b0000"/>
<rect x="164" y="298" width="1" height="12" fill="#ff0000"/>
<rect x="168" y="296" width="1" height="18" fill="#2f4f4f"/>
<rect x="167" y="297" width="3" height="9" fill="#2f4f4f"/>
<rect x="168" y="298" width="1" height="7" fill="#90ee90"/>
<rect x="172" y="272" width="1" height="36" fill="#8b0000"/>
<rect x="171" y="277" width="3" height="30" fill="#8b0000"/>
<rect x="172" y="278" width="1" height="28" fill="#ff0000"/>
<rect x="176" y="272" width="1" height="16" fill="#2f4f4f"/>
<rect x="175" y="276" width="3" height="6" fill="#2f4f4f"/>
<rect x="176" y="277" width="1" height="4" fill="#90ee90"/>
<rect x="180" y="265" width="1" height="17" fill="#8b0000"/>
<rect x="179" y="272" width="3" height="10" fill="#8b0000"/>
<rect x="180" y="273" width="1" height="8" fill="#ff0000"/>
<rect x="184" y="265" width="1" height="12" fill="#8b0000"/>
<rect x="183" y="271" width="3" height="3" fill="#8b0000"/>
<rect x="184" y="272" width="1" height="1" fill="#ff0000"/>
<rect x="188" y="265" width="1" height="20" fill="#8b0000"/>
<rect x="187" y="270" width="3" height="14" fill="#8b0000"/>
<rect x="188" y="271" width="1" height="12" fill="#ff0000"/>
<rect x="192" y="268" width="1" height="19" fill="#2f4f4f"/>
<rect x="191" y="270" width="3" height="15" fill="#2f4f4f"/>
<rect x="192" y="271" width="1" height="13" fill="#90ee90"/>
<rect x="196" y="276" width="1" height="21" fill="#2f4f4f"/>
<rect x="195" y="285" width="3" height="8" fill="#2f4f4f"/>
<rect x="196" y="286" width="1" height="6" fill="#90ee90"/>
<rect x="200" y="251" width="1" height="46" fill="#8b0000"/>
<rect x="199" y="265" width="3" height="29" fill="#8b0000"/>
<rect x="200" y="266" width="1" height="27" fill="#ff0000"/>
<rect x="204" y="259" width="1" height="36" fill="#2f4f4f"/>
<rect x="203" y="265" width="3" height="11" fill="#2f4f4f"/>
<rect x="204" y="266" width="1" height="9" fill="#90ee90"/>
<rect x="208" y="270" width="1" height="8" fill="#8b0000"/>
<rect x="207" y="273" width="3" height="5" fill="#8b0000"/>
<rect x="208" y="274" width="1" height="3" fill="#ff0000"/>
<rect x="212" y="230" width="1" height="24" fill="#2f4f4f"/>
<rect x="211" y="232" width="3" height="17" fill="#2f4f4f"/>
<rect x="212" y="233" width="1" height="15" fill="#90ee90"/>
<rect x="216" y="235" width="1" height="17" fill="#8b0000"/>
<rect x="215" y="247" width="3" height="3" fill="#8b0000"/>
<rect x="216" y="248" width="1" height="1" fill="#ff0000"/>
<rect x="220" y="218" width="1" height="31" fill="#8b0000"/>
<rect x="219" y="220" width="3" height="28" fill="#8b0000"/>
<rect x="220" y="221" width="1" height="26" fill="#ff0000"/>
<rect x="224" y="212" width="1" height="14" fill="#8b0000"/>
<rect x="223" y="217" width="3" height="3" fill="#8b0000"/>
<rect x="224" y="218" width="1" height="1" fill="#ff0000"/>
<rect x="228" y="212" width="1" height="20" fill="#8b0000"/>
<rect x="227" y="216" width="3" height="2" fill="#8b0000"/>
<rect x="232" y="213" width="1" height="7" fill="#2f4f4f"/>
<rect x="231" y="216" width="3" height="1" fill="#2f4f4f"/>
<rect x="236" y="208" width="1" height="17" fill="#8b0000"/>
<rect x="235" y="214" width="3" height="4" fill="#8b0000"/>
<rect x="236" y="215" width="1" height="2" fill="#ff0000"/>
<rect x="240" y="206" width="1" height="14" fill="#8b0000"/>
<rect x="239" y="206" width="3" height="8" fill="#8b0000"/>
<rect x="240" y="207" width="1" height="6" fill="#ff0000"/>
<rect x="244" y="206" width="1" height="26" fill="#2f4f4f"/>
<rect x="243" y="207" width="3" height="22" fill="#2f4f4f"/>
<rect x="244" y="208" width="1" height="20" fill="#90ee90"/>
<rect x="248" y="211" width="1" height="18" fill="#8b0000"/>
<rect x="247" y="219" width="3" height="10" fill="#8b0000"/>
<rect x="248" y="220" width="1" height="8" fill="#ff0000"/>
<rect x="252" y="173" width="1" height="48" fill="#8b0000"/>
<rect x="251" y="174" width="3" height="46" fill="#8b0000"/>
<rect x="252" y="175" width="1" height="44" fill="#ff0000"/>
<rect x="256" y="172" width="1" height="10" fill="#2f4f4f"/>
<rect x="255" y="174" width="3" height="6" fill="#2f4f4f"/>
<rect x="256" y="175" width="1" height="4" fill="#90ee90"/>
<rect x="260" y="151" width="1" height="38" fill="#8b0000"/>
<rect x="259" y="163" width="3" height="22" fill="#8b0000"/>
<rect x="260" y="164" width="1" height="20" fill="#ff0000"/>
<rect x="264" y="158" width="1" height="14" fill="#2f4f4f"/>
<rect x="263" y="164" width="3" height="2" fill="#2f4f4f"/>
<rect x="268" y="139" width="1" height="29" fill="#2f4f4f"/>
<rect x="267" y="164" width="3" height="3" fill="#2f4f4f"/>
<rect x="268" y="165" width="1" height="1" fill="#90ee90"/>
<rect x="272" y="157" width="1" height="20" fill="#8b0000"/>
<rect x="271" y="164" width="3" height="4" fill="#8b0000"/>
<rect x="272" y="165" width="1" height="2" fill="#ff0000"/>
<rect x="276" y="141" width="1" height="25" fill="#8b0000"/>
<rect x="275" y="143" width="3" height="22" fill="#8b0000"/>
<rect x="276" y="144" width="1" height="20" fill="#ff0000"/>
<rect x="280" y="140" width="1" height="76" fill="#2f4f4f"/>
<rect x="279" y="145" width="3" height="49" fill="#2f4f4f"/>
<rect x="280" y="146" width="1" height="47" fill="#90ee90"/>
<rect x="284" y="175" width="1" height="33" fill="#8b0000"/>
<rect x="283" y="178" width="3" height="26" fill="#8b0000"/>
<rect x="284" y="179" width="1" height="24" fill="#ff0000"/>
<rect x="288" y="163" width="1" height="29" fill="#8b0000"/>
<rect x="287" y="168" width="3" height="10" fill="#8b0000"/>
<rect x="288" y="169" width="1" height="8" fill="#ff0000"/>
<rect x="292" y="165" width="1" height="29" fill="#2f4f4f"/>
<rect x="291" y="168" width="3" height="18" fill="#2f4f4f"/>
<rect x="292" y="169" width="1" height="16" fill="#90ee90"/>
<rect x="296" y="184" width="1" height="55" fill="#2f4f4f"/>
<rect x="295" y="187" width="3" height="51" fill="#2f4f4f"/>
<rect x="296" y="188" width="1" height="49" fill="#90ee90"/>
<rect x="300" y="213" width="1" height="34" fill="#8b0000"/>
<rect x="299" y="219" width="3" height="19" fill="#8b0000"/>
<rect x="300" y="220" width="1" height="17" fill="#ff0000"/>
<rect x="304" y="214" width="1" height="14" fill="#2f4f4f"/>
<rect x="303" y="218" width="3" height="2" fill="#2f4f4f"/>
<rect x="308" y="213" width="1" height="14" fill="#8b0000"/>
<rect x="307" y="216" width="3" height="4" fill="#8b0000"/>
<rect x="308" y="217" width="1" height="2" fill="#ff0000"/>
<rect x="312" y="212" width="1" height="17" fill="#2f4f4f"/>
<rect x="311" y="216" width="3" height="8" fill="#2f4f4f"/>
<rect x="312" y="217" width="1" height="6" fill="#90ee90"/>
<rect x="316" y="222" width="1" height="23" fill="#2f4f4f"/>
<rect x="315" y="225" width="3" height="7" fill="#2f4f4f"/>
<rect x="316" y="226" width="1" height="5" fill="#90ee90"/>
<rect x="320" y="230" width="1" height="14" fill="#2f4f4f"/>
<rect x="319" y="232" width="3" height="10" fill="#2f4f4f"/>
<rect x="320" y="233" width="1" height="8" fill="#90ee90"/>
<rect x="324" y="221" width="1" height="24" fill="#8b0000"/>
<rect x="323" y="236" width="3" height="6" fill="#8b0000"/>
<rect x="324" y="237" width="1" height="4" fill="#ff0000"/>
<rect x="328" y="229" width="1" height="15" fill="#8b0000"/>
<rect x="327" y="230" width="3" height="7" fill="#8b0000"/>
<rect x="328" y="231" width="1" height="5" fill="#ff0000"/>
<rect x="332" y="225" width="1" height="17" fill="#8b0000"/>
<rect x="331" y="232" width="3" height="2" fill="#8b0000"/>
<rect x="336" y="208" width="1" height="27" fill="#8b0000"/>
<rect x="335" y="214" width="3" height="19" fill="#8b0000"/>
<rect x="336" y="215" width="1" height="17" fill="#ff0000"/>
<rect x="340" y="212" width="1" height="16" fill="#2f4f4f"/>
<rect x="339" y="213" width="3" height="14" fill="#2f4f4f"/>
<rect x="340" y="214" width="1" height="12" fill="#90ee90"/>
<rect x="344" y="221" width="1" height="20" fill="#2f4f4f"/>
<rect x="343" y="227" width="3" height="11" fill="#2f4f4f"/>
<rect x="344" y="228" width="1" height="9" fill="#90ee90"/>
<rect x="348" y="233" width="1" height="32" fill="#2f4f4f"/>
<rect x="347" y="238" width="3" height="2" fill="#2f4f4f"/>
<rect x="352" y="236" width="1" height="8" fill="#8b0000"/>
<rect x="351" y="239" width="3" height="2" fill="#8b0000"/>
<rect x="356" y="238" width="1" height="12" fill="#8b0000"/>
<rect x="355" y="244" width="3" height="2" fill="#8b0000"/>
<rect x="360" y="243" width="1" height="31" fill="#2f4f4f"/>
<rect x="359" y="244" width="3" height="28" fill="#2f4f4f"/>
<rect x="360" y="245" width="1" height="26" fill="#90ee90"/>
<rect x="364" y="263" width="1" height="33" fill="#2f4f4f"/>
<rect x="363" y="272" width="3" height="22" fill="#2f4f4f"/>
<rect x="364" y="273" width="1" height="20" fill="#90ee90"/>
<rect x="368" y="281" width="1" height="19" fill="#2f4f4f"/>
<rect x="367" y="294" width="3" height="4" fill="#2f4f4f"/>
<rect x="368" y="295" width="1" height="2" fill="#90ee90"/>
<rect x="372" y="282" width="1" height="31" fill="#8b0000"/>
<rect x="371" y="297" width="3" height="1" fill="#8b0000"/>
<rect x="376" y="297" width="1" height="14" fill="#2f4f4f"/>
<rect x="375" y="298" width="3" height="5" fill="#2f4f4f"/>
<rect x="376" y="299" width="1" height="3" fill="#90ee90"/>
<rect x="380" y="296" width="1" height="44" fill="#2f4f4f"/>
<rect x="379" y="302" width="3" height="28" fill="#2f4f4f"/>
<rect x="380" y="303" width="1" height="26" fill="#90ee90"/>
<rect x="384" y="288" width="1" height="42" fill="#8b0000"/>
<rect x="383" y="300" width="3" height="30" fill="#8b0000"/>
<rect x="384" y="301" width="1" height="28" fill="#ff0000"/>
<rect x="388" y="294" width="1" height="19" fill="#2f4f4f"/>
<rect x="387" y="300" width="3" height="12" fill="#2f4f4f"/>
<rect x="388" y="301" width="1" height="10" fill="#90ee90"/>
<rect x="392" y="303" width="1" height="19" fill="#8b0000"/>
<rect x="391" y="307" width="3" height="4" fill="#8b0000"/>
<rect x="392" y="308" width="1" height="2" fill="#ff0000"/>
<rect x="396" y="271" width="1" height="40" fill="#8b0000"/>
<rect x="395" y="279" width="3" height="28" fill="#8b0000"/>
<rect x="396" y="280" width="1" height="26" fill="#ff0000"/>
<rect x="400" y="274" width="1" height="12" fill="#8b0000"/>
<rect x="399" y="278" width="3" height="3" fill="#8b0000"/>
<rect x="400" y="279" width="1" height="1" fill="#ff0000"/>
<rect x="404" y="271" width="1" height="19" fill="#8b0000"/>
<rect x="403" y="274" width="3" height="9" fill="#8b0000"/>
<rect x="404" y="275" width="1" height="7" fill="#ff0000"/>
<rect x="408" y="264" width="1" height="18" fill="#2f4f4f"/>
<rect x="407" y="274" width="3" height="5" fill="#2f4f4f"/>
<rect x="408" y="275" width="1" height="3" fill="#90ee90"/>
<rect x="412" y="265" width="1" height="17" fill="#8b0000"/>
<rect x="411" y="270" width="3" height="8" fill="#8b0000"/>
<rect x="412" y="271" width="1" height="6" fill="#ff0000"/>
<rect x="416" y="264" width="1" height="17" fill="#2f4f4f"/>
<rect x="415" y="270" width="3" height="7" fill="#2f4f4f"/>
<rect x="416" y="271" width="1" height="5" fill="#90ee90"/>
<rect x="420" y="275" width="1" height="60" fill="#2f4f4f"/>
<rect x="419" y="276" width="3" height="40" fill="#2f4f4f"/>
<rect x="420" y="277" width="1" height="38" fill="#90ee90"/>
<rect x="424" y="302" width="1" height="22" fill="#8b0000"/>
<rect x="423" y="313" width="3" height="4" fill="#8b0000"/>
<rect x="424" y="314" width="1" height="2" fill="#ff0000"/>
<rect x="428" y="304" width="1" height="22" fill="#2f4f4f"/>
<rect x="427" y="315" width="3" height="1" fill="#2f4f4f"/>
<rect x="432" y="310" width="1" height="20" fill="#8b0000"/>
<rect x="431" y="313" width="3" height="3" fill="#8b0000"/>
<rect x="432" y="314" width="1" height="1" fill="#ff0000"/>
<rect x="436" y="303" width="1" height="13" fill="#8b0000"/>
<rect x="435" y="310" width="3" height="5" fill="#8b0000"/>
<rect x="436" y="311" width="1" height="3" fill="#ff0000"/>
<rect x="440" y="297" width="1" height="22" fill="#8b0000"/>
<rect x="439" y="304" width="3" height="7" fill="#8b0000"/>
<rect x="440" y="305" width="1" height="5" fill="#ff0000"/>
<rect x="444" y="300" width="1" height="29" fill="#2f4f4f"/>
<rect x="443" y="303" width="3" height="6" fill="#2f4f4f"/>
<rect x="444" y="304" width="1" height="4" fill="#90ee90"/>
<rect x="448" y="289" width="1" height="22" fill="#8b0000"/>
<rect x="447" y="294" width="3" height="15" fill="#8b0000"/>
<rect x="448" y="295" width="1" height="13" fill="#ff0000"/>
<rect x="452" y="259" width="1" height="40" fill="#8b0000"/>
<rect x="451" y="265" width="3" height="29" fill="#8b0000"/>
<rect x="452" y="266" width="1" height="27" fill="#ff0000"/>
<rect x="456" y="250" width="1" height="23" fill="#8b0000"/>
<rect x="455" y="253" width="3" height="14" fill="#8b0000"/>
<rect x="456" y="254" width="1" height="12" fill="#ff0000"/>
<rect x="460" y="237" width="1" height="18" fill="#8b0000"/>
<rect x="459" y="240" width="3" height="14" fill="#8b0000"/>
<rect x="460" y="241" width="1" height="12" fill="#ff0000"/>
<rect x="464" y="239" width="1" height="15" fill="#2f4f4f"/>
<rect x="463" y="240" width="3" height="11" fill="#2f4f4f"/>
<rect x="464" y="241" width="1" height="9" fill="#90ee90"/>
<rect x="468" y="237" width="1" height="33" fill="#8b0000"/>
<rect x="467" y="239" width="3" height="13" fill="#8b0000"/>
<rect x="468" y="240" width="1" height="11" fill="#ff0000"/>
<rect x="472" y="236" width="1" height="7" fill="#2f4f4f"/>
<rect x="471" y="239" width="3" height="4" fill="#2f4f4f"/>
<rect x="472" y="240" width="1" height="2" fill="#90ee90"/>
<rect x="476" y="242" width="1" height="10" fill="#8b0000"/>
<rect x="475" y="247" width="3" height="1" fill="#8b0000"/>
<rect x="480" y="245" width="1" height="21" fill="#2f4f4f"/>
<rect x="479" y="248" width="3" height="18" fill="#2f4f4f"/>
<rect x="480" y="249" width="1" height="16" fill="#90ee90"/>
<rect x="484" y="256" width="1" height="12" fill="#8b0000"/>
<rect x="483" y="264" width="3" height="2" fill="#8b0000"/>
<rect x="488" y="239" width="1" height="27" fill="#8b0000"/>
<rect x="487" y="243" width="3" height="21" fill="#8b0000"/>
<rect x="488" y="244" width="1" height="19" fill="#ff0000"/>
<rect x="492" y="239" width="1" height="23" fill="#2f4f4f"/>
<rect x="491" y="242" width="3" height="6" fill="#2f4f4f"/>
<rect x="492" y="243" width="1" height="4" fill="#90ee90"/>
<rect x="496" y="244" width="1" height="10" fill="#2f4f4f"/>
<rect x="495" y="248" width="3" height="5" fill="#2f4f4f"/>
<rect x="496" y="249" width="1" height="3" fill="#90ee90"/>
<rect x="500" y="247" width="1" height="25" fill="#8b0000"/>
<rect x="499" y="258" width="3" height="13" fill="#8b0000"/>
<rect x="500" y="259" width="1" height="11" fill="#ff0000"/>
<rect x="504" y="248" width="1" height="20" fill="#8b0000"/>
<rect x="503" y="250" width="3" height="9" fill="#8b0000"/>
<rect x="504" y="251" width="1" height="7" fill="#ff0000"/>
<rect x="508" y="231" width="1" height="21" fill="#8b0000"/>
<rect x="507" y="245" width="3" height="6" fill="#8b0000"/>
<rect x="508" y="246" width="1" height="4" fill="#ff0000"/>
<rect x="512" y="231" width="1" height="19" fill="#8b0000"/>
<rect x="511" y="240" width="3" height="6" fill="#8b0000"/>
<rect x="512" y="241" width="1" height="4" fill="#ff0000"/>
<rect x="516" y="230" width="1" height="18" fill="#8b0000"/>
<rect x="515" y="233" width="3" height="8" fill="#8b0000"/>
<rect x="516" y="234" width="1" height="6" fill="#ff0000"/>
<rect x="520" y="223" width="1" height="16" fill="#2f4f4f"/>
<rect x="519" y="233" width="3" height="3" fill="#2f4f4f"/>
<rect x="520" y="234" width="1" height="1" fill="#90ee90"/>
<rect x="524" y="207" width="1" height="40" fill="#8b0000"/>
<rect x="523" y="214" width="3" height="24" fill="#8b0000"/>
<rect x="524" y="215" width="1" height="22" fill="#ff0000"/>
<rect x="528" y="204" width="1" height="18" fill="#2f4f4f"/>
<rect x="527" y="214" width="3" height="1" fill="#2f4f4f"/>
<rect x="532" y="185" width="1" height="33" fill="#8b0000"/>
<rect x="531" y="195" width="3" height="20" fill="#8b0000"/>
<rect x="532" y="196" width="1" height="18" fill="#ff0000"/>
<rect x="536" y="194" width="1" height="32" fill="#2f4f4f"/>
<rect x="535" y="194" width="3" height="27" fill="#2f4f4f"/>
<rect x="536" y="195" width="1" height="25" fill="#90ee90"/>
<rect x="540" y="214" width="1" height="25" fill="#2f4f4f"/>
<rect x="539" y="220" width="3" height="6" fill="#2f4f4f"/>
<rect x="540" y="221" width="1" height="4" fill="#90ee90"/>
<rect x="544" y="223" width="1" height="35" fill="#2f4f4f"/>
<rect x="543" y="226" width="3" height="25" fill="#2f4f4f"/>
<rect x="544" y="227" width="1" height="23" fill="#90ee90"/>
<rect x="548" y="232" width="1" height="26" fill="#8b0000"/>
<rect x="547" y="236" width="3" height="20" fill="#8b0000"/>
<rect x="548" y="237" width="1" height="18" fill="#ff0000"/>
<rect x="552" y="224" width="1" height="25" fill="#2f4f4f"/>
<rect x="551" y="236" width="3" height="2" fill="#2f4f4f"/>
<rect x="556" y="237" width="1" height="29" fill="#2f4f4f"/>
<rect x="555" y="239" width="3" height="22" fill="#2f4f4f"/>
<rect x="556" y="240" width="1" height="20" fill="#90ee90"/>
<rect x="560" y="250" width="1" height="34" fill="#8b0000"/>
<rect x="559" y="257" width="3" height="3" fill="#8b0000"/>
<rect x="560" y="258" width="1" height="1" fill="#ff0000"/>
<rect x="564" y="222" width="1" height="41" fill="#8b0000"/>
<rect x="563" y="234" width="3" height="24" fill="#8b0000"/>
<rect x="564" y="235" width="1" height="22" fill="#ff0000"/>
<rect x="568" y="234" width="1" height="11" fill="#2f4f4f"/>
<rect x="567" y="234" width="3" height="8" fill="#2f4f4f"/>
<rect x="568" y="235" width="1" height="6" fill="#90ee90"/>
<rect x="572" y="242" width="1" height="24" fill="#2f4f4f"/>
<rect x="571" y="247" width="3" height="17" fill="#2f4f4f"/>
<rect x="572" y="248" width="1" height="15" fill="#90ee90"/>
<rect x="576" y="256" width="1" height="16" fill="#8b0000"/>
<rect x="575" y="259" width="3" height="5" fill="#8b0000"/>
<rect x="576" y="260" width="1" height="3" fill="#ff0000"/>
<rect x="580" y="240" width="1" height="24" fill="#2f4f4f"/>
<rect x="579" y="258" width="3" height="5" fill="#2f4f4f"/>
<rect x="580" y="259" width="1" height="3" fill="#90ee90"/>
<rect x="584" y="259" width="1" height="20" fill="#2f4f4f"/>
<rect x="583" y="262" width="3" height="13" fill="#2f4f4f"/>
<rect x="584" y="263" width="1" height="11" fill="#90ee90"/>
<rect x="588" y="270" width="1" height="17" fill="#2f4f4f"/>
<rect x="587" y="274" width="3" height="2" fill="#2f4f4f"/>
<rect x="592" y="274" width="1" height="37" fill="#2f4f4f"/>
<rect x="591" y="276" width="3" height="21" fill="#2f4f4f"/>
<rect x="592" y="277" width="1" height="19" fill="#90ee90"/>
<rect x="596" y="289" width="1" height="14" fill="#8b0000"/>
<rect x="595" y="298" width="3" height="4" fill="#8b0000"/>
<rect x="596" y="299" width="1" height="2" fill="#ff0000"/>
<rect x="600" y="290" width="1" height="43" fill="#2f4f4f"/>
<rect x="599" y="299" width="3" height="13" fill="#2f4f4f"/>
<rect x="600" y="300" width="1" height="11" fill="#90ee90"/>
<rect x="604" y="288" width="1" height="33" fill="#8b0000"/>
<rect x="603" y="293" width="3" height="19" fill="#8b0000"/>
<rect x="604" y="294" width="1" height="17" fill="#ff0000"/>
<rect x="608" y="279" width="1" height="15" fill="#8b0000"/>
<rect x="607" y="281" width="3" height="12" fill="#8b0000"/>
<rect x="608" y="282" width="1" height="10" fill="#ff0000"/>
<rect x="612" y="273" width="1" height="38" fill="#8b0000"/>
<rect x="611" y="274" width="3" height="7" fill="#8b0000"/>
<rect x="612" y="275" width="1" height="5" fill="#ff0000"/>
<rect x="616" y="264" width="1" height="16" fill="#2f4f4f"/>
<rect x="615" y="275" width="3" height="4" fill="#2f4f4f"/>
<rect x="616" y="276" width="1" height="2" fill="#90ee90"/>
<rect x="620" y="272" width="1" height="27" fill="#2f4f4f"/>
<rect x="619" y="285" width="3" height="12" fill="#2f4f4f"/>
<rect x="620" y="286" width="1" height="10" fill="#90ee90"/>
<rect x="624" y="289" width="1" height="28" fill="#2f4f4f"/>
<rect x="623" y="297" width="3" height="3" fill="#2f4f4f"/>
<rect x="624" y="298" width="1" height="1" fill="#90ee90"/>
<rect x="628" y="292" width="1" height="16" fill="#2f4f4f"/>
<rect x="627" y="302" width="3" height="2" fill="#2f4f4f"/>
<rect x="632" y="297" width="1" height="14" fill="#2f4f4f"/>
<rect x="631" y="304" width="3" height="4" fill="#2f4f4f"/>
<rect x="632" y="305" width="1" height="2" fill="#90ee90"/>
<rect x="636" y="297" width="1" height="52" fill="#2f4f4f"/>
<rect x="635" y="308" width="3" height="31" fill="#2f4f4f"/>
<rect x="636" y="309" width="1" height="29" fill="#90ee90"/>
<rect x="640" y="312" width="1" height="30" fill="#8b0000"/>
<rect x="639" y="313" width="3" height="11" fill="#8b0000"/>
<rect x="640" y="314" width="1" height="9" fill="#ff0000"/>
<rect x="644" y="298" width="1" height="28" fill="#8b0000"/>
<rect x="643" y="313" width="3" height="12" fill="#8b0000"/>
<rect x="644" y="314" width="1" height="10" fill="#ff0000"/>
<rect x="648" y="301" width="1" height="20" fill="#2f4f4f"/>
<rect x="647" y="312" width="3" height="3" fill="#2f4f4f"/>
<rect x="648" y="313" width="1" height="1" fill="#90ee90"/>
<rect x="652" y="308" width="1" height="16" fill="#8b0000"/>
<rect x="651" y="310" width="3" height="5" fill="#8b0000"/>
<rect x="652" y="311" width="1" height="3" fill="#ff0000"/>
<rect x="656" y="286" width="1" height="47" fill="#8b0000"/>
<rect x="655" y="299" width="3" height="11" fill="#8b0000"/>
<rect x="656" y="300" width="1" height="9" fill="#ff0000"/>
<rect x="660" y="284" width="1" height="66" fill="#2f4f4f"/>
<rect x="659" y="299" width="3" height="50" fill="#2f4f4f"/>
<rect x="660" y="300" width="1" height="48" fill="#90ee90"/>
<rect x="664" y="340" width="1" height="16" fill="#8b0000"/>
<rect x="663" y="346" width="3" height="3" fill="#8b0000"/>
<rect x="664" y="347" width="1" height="1" fill="#ff0000"/>
<rect x="668" y="342" width="1" height="12" fill="#8b0000"/>
<rect x="667" y="346" width="3" height="3" fill="#8b0000"/>
<rect x="668" y="347" width="1" height="1" fill="#ff0000"/>
<rect x="672" y="344" width="1" height="13" fill="#2f4f4f"/>
<rect x="671" y="347" width="3" height="8" fill="#2f4f4f"/>
<rect x="672" y="348" width="1" height="6" fill="#90ee90"/>
<rect x="676" y="349" width="1" height="29" fill="#2f4f4f"/>
<rect x="675" y="354" width="3" height="15" fill="#2f4f4f"/>
<rect x="676" y="355" width="1" height="13" fill="#90ee90"/>
<rect x="680" y="348" width="1" height="39" fill="#8b0000"/>
<rect x="679" y="352" width="3" height="17" fill="#8b0000"/>
<rect x="680" y="353" width="1" height="15" fill="#ff0000"/>
<rect x="684" y="338" width="1" height="46" fill="#8b0000"/>
<rect x="683" y="346" width="3" height="6" fill="#8b0000"/>
<rect x="684" y="347" width="1" height="4" fill="#ff0000"/>
<rect x="688" y="339" width="1" height="18" fill="#8b0000"/>
<rect x="687" y="342" width="3" height="4" fill="#8b0000"/>
<rect x="688" y="343" width="1" height="2" fill="#ff0000"/>
<rect x="692" y="330" width="1" height="18" fill="#2f4f4f"/>
<rect x="691" y="340" width="3" height="7" fill="#2f4f4f"/>
<rect x="692" y="341" width="1" height="5" fill="#90ee90"/>
<rect x="696" y="332" width="1" height="17" fill="#8b0000"/>
<rect x="695" y="334" width="3" height="14" fill="#8b0000"/>
<rect x="696" y="335" width="1" height="12" fill="#ff0000"/>
<rect x="700" y="330" width="1" height="31" fill="#2f4f4f"/>
<rect x="699" y="334" width="3" height="21" fill="#2f4f4f"/>
<rect x="700" y="335" width="1" height="19" fill="#90ee90"/>
<rect x="704" y="339" width="1" height="19" fill="#8b0000"/>
<rect x="703" y="346" width="3" height="10" fill="#8b0000"/>
<rect x="704" y="347" width="1" height="8" fill="#ff0000"/>
<rect x="708" y="338" width="1" height="10" fill="#8b0000"/>
<rect x="707" y="339" width="3" height="8" fill="#8b0000"/>
<rect x="708" y="340" width="1" height="6" fill="#ff0000"/>
<rect x="712" y="327" width="1" height="13" fill="#8b0000"/>
<rect x="711" y="333" width="3" height="6" fill="#8b0000"/>
<rect x="712" y="334" width="1" height="4" fill="#ff0000"/>
<rect x="716" y="326" width="1" height="17" fill="#8b0000"/>
<rect x="715" y="334" width="3" height="8" fill="#8b0000"/>
<rect x="716" y="335" width="1" height="6" fill="#ff0000"/>
<rect x="720" y="329" width="1" height="14" fill="#2f4f4f"/>
<rect x="719" y="334" width="3" height="8" fill="#2f4f4f"/>
<rect x="720" y="335" width="1" height="6" fill="#90ee90"/>
<rect x="724" y="333" width="1" height="20" fill="#8b0000"/>
<rect x="723" y="339" width="3" height="2" fill="#8b0000"/>
<rect x="728" y="328" width="1" height="30" fill="#8b0000"/>
<rect x="727" y="336" width="3" height="3" fill="#8b0000"/>
<rect x="728" y="337" width="1" height="1" fill="#ff0000"/>
<rect x="732" y="318" width="1" height="52" fill="#8b0000"/>
<rect x="731" y="323" width="3" height="12" fill="#8b0000"/>
<rect x="732" y="324" width="1" height="10" fill="#ff0000"/>
<rect x="736" y="318" width="1" height="11" fill="#2f4f4f"/>
<rect x="735" y="322" width="3" height="4" fill="#2f4f4f"/>
<rect x="736" y="323" width="1" height="2" fill="#90ee90"/>
<rect x="740" y="293" width="1" height="33" fill="#8b0000"/>
<rect x="739" y="298" width="3" height="26" fill="#8b0000"/>
<rect x="740" y="299" width="1" height="24" fill="#ff0000"/>
<rect x="744" y="277" width="1" height="25" fill="#8b0000"/>
<rect x="743" y="280" width="3" height="21" fill="#8b0000"/>
<rect x="744" y="281" width="1" height="19" fill="#ff0000"/>
<rect x="748" y="272" width="1" height="21" fill="#2f4f4f"/>
<rect x="747" y="280" width="3" height="8" fill="#2f4f4f"/>
<rect x="748" y="281" width="1" height="6" fill="#90ee90"/>
<rect x="752" y="281" width="1" height="27" fill="#2f4f4f"/>
<rect x="751" y="288" width="3" height="11" fill="#2f4f4f"/>
<rect x="752" y="289" width="1" height="9" fill="#90ee90"/>
<rect x="756" y="266" width="1" height="36" fill="#8b0000"/>
<rect x="755" y="269" width="3" height="30" fill="#8b0000"/>
<rect x="756" y="270" width="1" height="28" fill="#ff0000"/>
<rect x="760" y="260" width="1" height="12" fill="#8b0000"/>
<rect x="759" y="264" width="3" height="6" fill="#8b0000"/>
<rect x="760" y="265" width="1" height="4" fill="#ff0000"/>
<rect x="764" y="247" width="1" height="23" fill="#8b0000"/>
<rect x="763" y="248" width="3" height="21" fill="#8b0000"/>
<rect x="764" y="249" width="1" height="19" fill="#ff0000"/>
<rect x="768" y="237" width="1" height="17" fill="#8b0000"/>
<rect x="767" y="245" width="3" height="3" fill="#8b0000"/>
<rect x="768" y="246" width="1" height="1" fill="#ff0000"/>
<rect x="772" y="244" width="1" height="16" fill="#2f4f4f"/>
<rect x="771" y="245" width="3" height="13" fill="#2f4f4f"/>
<rect x="772" y="246" width="1" height="11" fill="#90ee90"/>
<rect x="776" y="251" width="1" height="9" fill="#8b0000"/>
<rect x="775" y="253" width="3" height="5" fill="#8b0000"/>
<rect x="776" y="254" width="1" height="3" fill="#ff0000"/>
<rect x="780" y="244" width="1" height="15" fill="#8b0000"/>
<rect x="779" y="247" width="3" height="7" fill="#8b0000"/>
<rect x="780" y="248" width="1" height="5" fill="#ff0000"/>
<rect x="784" y="244" width="1" height="6" fill="#8b0000"/>
<rect x="783" y="244" width="3" height="4" fill="#8b0000"/>
<rect x="784" y="245" width="1" height="2" fill="#ff0000"/>
<rect x="788" y="236" width="1" height="16" fill="#8b0000"/>
<rect x="787" y="243" width="3" height="7" fill="#8b0000"/>
<rect x="788" y="244" width="1" height="5" fill="#ff0000"/>
<rect x="792" y="237" width="1" height="19" fill="#2f4f4f"/>
<rect x="791" y="243" width="3" height="7" fill="#2f4f4f"/>
<rect x="792" y="244" width="1" height="5" fill="#90ee90"/>
<rect x="796" y="249" width="1" height="9" fill="#2f4f4f"/>
<rect x="795" y="250" width="3" height="6" fill="#2f4f4f"/>
<rect x="796" y="251" width="1" height="4" fill="#90ee90"/>
<rect x="800" y="241" width="1" height="21" fill="#8b0000"/>
<rect x="799" y="242" width="3" height="14" fill="#8b0000"/>
<rect x="800" y="243" width="1" height="12" fill="#ff0000"/>
<rect x="804" y="212" width="1" height="36" fill="#8b0000"/>
<rect x="803" y="222" width="3" height="21" fill="#8b0000"/>
<rect x="804" y="223" width="1" height="19" fill="#ff0000"/>
<rect x="808" y="220" width="1" height="12" fill="#2f4f4f"/>
<rect x="807" y="222" width="3" height="7" fill="#2f4f4f"/>
<rect x="808" y="223" width="1" height="5" fill="#90ee90"/>
<rect x="812" y="215" width="1" height="24" fill="#8b0000"/>
<rect x="811" y="221" width="3" height="17" fill="#8b0000"/>
<rect x="812" y="222" width="1" height="15" fill="#ff0000"/>
<rect x="816" y="220" width="1" height="12" fill="#2f4f4f"/>
<rect x="815" y="221" width="3" height="11" fill="#2f4f4f"/>
<rect x="816" y="222" width="1" height="9" fill="#90ee90"/>
<rect x="820" y="218" width="1" height="13" fill="#8b0000"/>
<rect x="819" y="224" width="3" height="6" fill="#8b0000"/>
<rect x="820" y="225" width="1" height="4" fill="#ff0000"/>
<rect x="824" y="203" width="1" height="23" fill="#8b0000"/>
<rect x="823" y="211" width="3" height="14" fill="#8b0000"/>
<rect x="824" y="212" width="1" height="12" fill="#ff0000"/>
<rect x="828" y="206" width="1" height="18" fill="#2f4f4f"/>
<rect x="827" y="211" width="3" height="12" fill="#2f4f4f"/>
<rect x="828" y="212" width="1" height="10" fill="#90ee90"/>
<rect x="832" y="222" width="1" height="15" fill="#2f4f4f"/>
<rect x="831" y="224" width="3" height="9" fill="#2f4f4f"/>
<rect x="832" y="225" width="1" height="7" fill="#90ee90"/>
<rect x="836" y="229" width="1" height="14" fill="#8b0000"/>
<rect x="835" y="230" width="3" height="4" fill="#8b0000"/>
<rect x="836" y="231" width="1" height="2" fill="#ff0000"/>
<rect x="840" y="218" width="1" height="14" fill="#8b0000"/>
<rect x="839" y="220" width="3" height="10" fill="#8b0000"/>
<rect x="840" y="221" width="1" height="8" fill="#ff0000"/>
<rect x="844" y="213" width="1" height="17" fill="#2f4f4f"/>
<rect x="843" y="220" width="3" height="6" fill="#2f4f4f"/>
<rect x="844" y="221" width="1" height="4" fill="#90ee90"/>
<rect x="848" y="207" width="1" height="25" fill="#8b0000"/>
<rect x="847" y="208" width="3" height="18" fill="#8b0000"/>
<rect x="848" y="209" width="1" height="16" fill="#ff0000"/>
<rect x="852" y="201" width="1" height="20" fill="#2f4f4f"/>
<rect x="851" y="208" width="3" height="12" fill="#2f4f4f"/>
<rect x="852" y="209" width="1" height="10" fill="#90ee90"/>
<rect x="856" y="202" width="1" height="19" fill="#8b0000"/>
<rect x="855" y="203" width="3" height="17" fill="#8b0000"/>
<rect x="856" y="204" width="1" height="15" fill="#ff0000"/>
<rect x="860" y="192" width="1" height="29" fill="#8b0000"/>
<rect x="859" y="192" width="3" height="25" fill="#8b0000"/>
<rect x="860" y="193" width="1" height="23" fill="#ff0000"/>
<rect x="864" y="185" width="1" height="11" fill="#8b0000"/>
<rect x="863" y="186" width="3" height="7" fill="#8b0000"/>
<rect x="864" y="187" width="1" height="5" fill="#ff0000"/>
<rect x="868" y="181" width="1" height="11" fill="#2f4f4f"/>
<rect x="867" y="182" width="3" height="3" fill="#2f4f4f"/>
<rect x="868" y="183" width="1" height="1" fill="#90ee90"/>
<rect x="872" y="174" width="1" height="11" fill="#8b0000"/>
<rect x="871" y="177" width="3" height="8" fill="#8b0000"/>
<rect x="872" y="178" width="1" height="6" fill="#ff0000"/>
<rect x="876" y="166" width="1" height="27" fill="#8b0000"/>
<rect x="875" y="167" width="3" height="11" fill="#8b0000"/>
<rect x="876" y="168" width="1" height="9" fill="#ff0000"/>
<rect x="880" y="158" width="1" height="10" fill="#8b0000"/>
<rect x="879" y="160" width="3" height="7" fill="#8b0000"/>
<rect x="880" y="161" width="1" height="5" fill="#ff0000"/>
<rect x="884" y="146" width="1" height="24" fill="#8b0000"/>
<rect x="883" y="152" width="3" height="8" fill="#8b0000"/>
<rect x="884" y="153" width="1" height="6" fill="#ff0000"/>
<rect x="888" y="141" width="1" height="14" fill="#8b0000"/>
<rect x="887" y="147" width="3" height="5" fill="#8b0000"/>
<rect x="888" y="148" width="1" height="3" fill="#ff0000"/>
<rect x="892" y="136" width="1" height="13" fill="#8b0000"/>
<rect x="891" y="143" width="3" height="4" fill="#8b0000"/>
<rect x="892" y="144" width="1" height="2" fill="#ff0000"/>
<rect x="896" y="141" width="1" height="23" fill="#2f4f4f"/>
<rect x="895" y="143" width="3" height="5" fill="#2f4f4f"/>
<rect x="896" y="144" width="1" height="3" fill="#90ee90"/>
<rect x="900" y="144" width="1" height="9" fill="#8b0000"/>
<rect x="899" y="144" width="3" height="7" fill="#8b0000"/>
<rect x="900" y="145" width="1" height="5" fill="#ff0000"/>
<rect x="904" y="140" width="1" height="10" fill="#2f4f4f"/>
<rect x="903" y="140" width="3" height="8" fill="#2f4f4f"/>
<rect x="904" y="141" width="1" height="6" fill="#90ee90"/>
<rect x="908" y="141" width="1" height="13" fill="#8b0000"/>
<rect x="907" y="143" width="3" height="5" fill="#8b0000"/>
<rect x="908" y="144" width="1" height="3" fill="#ff0000"/>
<rect x="912" y="131" width="1" height="17" fill="#8b0000"/>
<rect x="911" y="132" width="3" height="12" fill="#8b0000"/>
<rect x="912" y="133" width="1" height="10" fill="#ff0000"/>
<rect x="916" y="125" width="1" height="10" fill="#8b0000"/>
<rect x="915" y="126" width="3" height="7" fill="#8b0000"/>
<rect x="916" y="127" width="1" height="5" fill="#ff0000"/>
<rect x="920" y="123" width="1" height="5" fill="#2f4f4f"/>
<rect x="919" y="124" width="3" height="2" fill="#2f4f4f"/>
<rect x="924" y="98" width="1" height="28" fill="#8b0000"/>
<rect x="923" y="112" width="3" height="13" fill="#8b0000"/>
<rect x="924" y="113" width="1" height="11" fill="#ff0000"/>
<rect x="928" y="110" width="1" height="10" fill="#2f4f4f"/>
<rect x="927" y="112" width="3" height="6" fill="#2f4f4f"/>
<rect x="928" y="113" width="1" height="4" fill="#90ee90"/>
<rect x="932" y="105" width="1" height="24" fill="#8b0000"/>
<rect x="931" y="106" width="3" height="12" fill="#8b0000"/>
<rect x="932" y="107" width="1" height="10" fill="#ff0000"/>
<rect x="936" y="98" width="1" height="13" fill="#8b0000"/>
<rect x="935" y="102" width="3" height="4" fill="#8b0000"/>
<rect x="936" y="103" width="1" height="2" fill="#ff0000"/>
<rect x="940" y="98" width="1" height="11" fill="#2f4f4f"/>
<rect x="939" y="102" width="3" height="6" fill="#2f4f4f"/>
<rect x="940" y="103" width="1" height="4" fill="#90ee90"/>
<rect x="944" y="106" width="1" height="9" fill="#2f4f4f"/>
<rect x="943" y="108" width="3" height="5" fill="#2f4f4f"/>
<rect x="944" y="109" width="1" height="3" fill="#90ee90"/>
<rect x="948" y="108" width="1" height="11" fill="#2f4f4f"/>
<rect x="947" y="113" width="3" height="5" fill="#2f4f4f"/>
<rect x="948" y="114" width="1" height="3" fill="#90ee90"/>
<rect x="952" y="116" width="1" height="7" fill="#2f4f4f"/>
<rect x="951" y="118" width="3" height="2" fill="#2f4f4f"/>
<rect x="956" y="118" width="1" height="8" fill="#2f4f4f"/>
<rect x="955" y="120" width="3" height="4" fill="#2f4f4f"/>
<rect x="956" y="121" width="1" height="2" fill="#90ee90"/>
<rect x="960" y="98" width="1" height="56" fill="#8b0000"/>
<rect x="959" y="105" width="3" height="20" fill="#8b0000"/>
<rect x="960" y="106" width="1" height="18" fill="#ff0000"/>
<rect x="964" y="99" width="1" height="19" fill="#8b0000"/>
<rect x="963" y="103" width="3" height="3" fill="#8b0000"/>
<rect x="964" y="104" width="1" height="1" fill="#ff0000"/>
<rect x="968" y="102" width="1" height="19" fill="#2f4f4f"/>
<rect x="967" y="103" width="3" height="9" fill="#2f4f4f"/>
<rect x="968" y="104" width="1" height="7" fill="#90ee90"/>
<rect x="972" y="91" width="1" height="26" fill="#8b0000"/>
<rect x="971" y="112" width="3" height="1" fill="#8b0000"/>
<rect x="976" y="105" width="1" height="9" fill="#8b0000"/>
<rect x="975" y="106" width="3" height="6" fill="#8b0000"/>
<rect x="976" y="107" width="1" height="4" fill="#ff0000"/>
<rect x="980" y="111" width="1" height="11" fill="#2f4f4f"/>
<rect x="979" y="113" width="3" height="6" fill="#2f4f4f"/>
<rect x="980" y="114" width="1" height="4" fill="#90ee90"/>
<rect x="984" y="106" width="1" height="19" fill="#8b0000"/>
<rect x="983" y="107" width="3" height="12" fill="#8b0000"/>
<rect x="984" y="108" width="1" height="10" fill="#ff0000"/>
<rect x="988" y="98" width="1" height="10" fill="#8b0000"/>
<rect x="987" y="98" width="3" height="9" fill="#8b0000"/>
<rect x="988" y="99" width="1" height="7" fill="#ff0000"/>
<rect x="992" y="94" width="1" height="19" fill="#2f4f4f"/>
<rect x="991" y="98" width="3" height="9" fill="#2f4f4f"/>
<rect x="992" y="99" width="1" height="7" fill="#90ee90"/>
<rect x="996" y="103" width="1" height="21" fill="#8b0000"/>
<rect x="995" y="105" width="3" height="2" fill="#8b0000"/>
<rect x="1000" y="80" width="1" height="35" fill="#8b0000"/>
<rect x="999" y="87" width="3" height="19" fill="#8b0000"/>
<rect x="1000" y="88" width="1" height="17" fill="#ff0000"/>
<rect x="1004" y="60" width="1" height="26" fill="#2f4f4f"/>
<rect x="1003" y="68" width="3" height="4" fill="#2f4f4f"/>
<rect x="1004" y="69" width="1" height="2" fill="#90ee90"/>
<rect x="1008" y="67" width="1" height="55" fill="#2f4f4f"/>
<rect x="1007" y="72" width="3" height="46" fill="#2f4f4f"/>
<rect x="1008" y="73" width="1" height="44" fill="#90ee90"/>
</g>
<g fill="#f95555">
<path d="M534.9,185.5 L545.2,199.9 L555.5,214.4 L565.5,229.1 L575.5,243.8 L585.5,258.5 L595.6,273.2 L605.6,287.9 L615.6,302.6 L625.6,317.3 L635.6,332.0 L645.6,346.7 L655.6,361.4 L649.0,366.1 L681.0,387.5 L671.0,350.4 L664.4,355.1 L653.6,340.9 L642.9,326.8 L632.2,312.6 L621.4,298.4 L610.7,284.2 L599.9,270.1 L589.2,255.9 L578.5,241.7 L567.7,227.5 L557.0,213.4 L546.5,199.0 L536.1,184.5Z"/>
<path d="M696.6,381.5 L714.8,359.9 L733.1,338.3 L751.7,317.0 L770.3,295.6 L788.8,274.3 L807.4,253.0 L826.0,231.6 L844.6,210.3 L863.1,188.9 L881.7,167.6 L900.3,146.3 L918.8,124.9 L923.6,128.9 L935.6,96.3 L905.5,113.7 L910.3,117.7 L892.4,139.7 L874.5,161.6 L856.7,183.5 L838.8,205.5 L821.0,227.4 L803.1,249.4 L785.3,271.3 L767.4,293.2 L749.6,315.2 L731.7,337.1 L713.6,358.8 L695.4,380.5Z"/>
<path d="M935.4,96.2 L936.4,98.7 L937.3,101.2 L937.9,103.8 L938.5,106.5 L939.1,109.1 L939.7,111.8 L940.2,114.4 L940.8,117.1 L941.4,119.7 L942.0,122.4 L942.6,125.0 L943.2,127.7 L936.7,130.3 L960.3,155.8 L959.5,121.1 L953.0,123.7 L951.6,121.4 L950.2,119.1 L948.8,116.7 L947.4,114.4 L946.0,112.1 L944.6,109.8 L943.2,107.5 L941.7,105.2 L940.3,102.8 L938.9,100.5 L937.8,98.1 L936.8,95.6Z"/>
<path d="M961.5,155.3 L963.9,149.2 L966.3,143.2 L969.0,137.3 L971.8,131.4 L974.5,125.5 L977.3,119.6 L980.0,113.7 L982.8,107.8 L985.5,102.0 L988.3,96.1 L991.0,90.2 L993.8,84.3 L999.9,86.6 L1000.2,51.4 L977.1,77.9 L983.1,80.2 L981.3,86.5 L979.4,92.7 L977.6,98.9 L975.7,105.1 L973.8,111.4 L972.0,117.6 L970.1,123.8 L968.2,130.1 L966.4,136.3 L964.5,142.5 L962.4,148.7 L960.1,154.7Z"/>
<path d="M1007.5,61.3 L1009.4,67.4 L1011.2,73.6 L1012.7,79.8 L1014.1,86.1 L1015.6,92.3 L1017.0,98.6 L1018.5,104.8 L1020.0,111.0 L1021.4,117.3 L1022.9,123.5 L1024.3,129.8 L1025.8,136.0 L1018.7,138.2 L1040.5,165.8 L1043.0,130.7 L1035.9,132.9 L1033.6,126.9 L1031.3,120.9 L1029.0,114.9 L1026.7,109.0 L1024.4,103.0 L1022.1,97.0 L1019.8,91.0 L1017.5,85.0 L1015.2,79.0 L1012.9,73.1 L1010.9,67.0 L1009.1,60.9Z"/>
<path d="M1042.2,162.4 L1043.5,158.1 L1044.9,153.8 L1046.6,149.6 L1048.4,145.3 L1050.1,141.1 L1051.9,136.9 L1053.6,132.7 L1055.4,128.5 L1057.1,124.3 L1058.9,120.1 L1060.6,115.8 L1062.4,111.6 L1070.0,114.0 L1067.6,79.0 L1045.6,106.3 L1053.2,108.7 L1052.2,113.2 L1051.2,117.7 L1050.2,122.1 L1049.3,126.6 L1048.3,131.0 L1047.3,135.5 L1046.3,139.9 L1045.3,144.4 L1044.3,148.8 L1043.4,153.3 L1042.0,157.6 L1040.6,162.0Z"/>
</g>
<g shape-rendering="crispEdges">
<rect x="0" y="507" width="1089" height="1" fill="#f00"/>
<rect x="0" y="596" width="1089" height="1" fill="#00f"/>
<line x1="-16" y1="526.5" x2="1089" y2="526.5" stroke="#f00" stroke-dasharray="9 3 3 3 3 3"/>
<line x1="-16" y1="577.5" x2="1089" y2="577.5" stroke="#00f" stroke-dasharray="9 3 3 3 3 3"/>
<line x1="2" y1="551.5" x2="1089" y2="551.5" stroke="#555" stroke-dasharray="6 3"/>
</g>
<g fill="none" stroke-width="1" stroke-linejoin="round" shape-rendering="crispEdges">
<path d="M0.0,572.8 L3.6,587.4 L8.5,593.0 L12.1,572.8 L17.0,560.2 L20.6,560.0 L24.2,546.2 L28.6,539.4 L32.7,540.1 L36.4,543.3 L40.0,554.7 L43.6,558.3 L47.8,561.2 L52.1,551.5 L55.8,550.3 L58.2,554.7 L60.6,564.4 L64.2,569.2 L67.9,570.4 L72.7,575.3 L76.4,586.2 L80.5,560.2 L84.4,558.3 L88.5,546.2 L92.1,540.1 L96.5,532.4 L100.6,541.3 L104.7,551.5 L108.6,537.7 L112.0,531.6 L115.9,530.4 L118.8,534.1 L121.2,542.5 L124.1,562.7 L128.5,563.9 L132.1,565.1 L137.0,563.2 L141.8,560.7 L145.5,551.5 L148.4,539.4 L150.8,551.5 L152.7,560.0 L156.4,558.3 L160.0,560.7 L163.6,563.2 L168.5,563.2 L170.9,548.1 L172.6,538.9 L177.0,529.7 L181.3,524.4 L184.2,523.6 L187.9,530.4 L191.5,540.1 L195.9,551.5 L200.0,535.3 L203.6,542.5 L207.3,538.9 L209.7,531.6 L212.1,516.6 L215.8,515.9 L219.4,511.8 L223.5,507.4 L227.4,511.8 L231.5,510.3 L236.4,508.6 L240.0,507.9 L243.6,521.9 L247.8,526.8 L252.1,511.8 L256.5,504.5 L260.6,502.5 L265.5,501.8 L268.4,499.4 L272.4,520.7 L276.1,515.9 L279.7,536.5 L284.1,554.7 L288.2,546.2 L291.8,545.7 L295.5,568.0 L299.6,576.5 L303.9,568.0 L307.6,566.1 L311.2,566.8 L314.8,574.1 L318.5,577.7 L323.3,572.8 L328.2,574.8 L331.8,569.2 L335.5,553.5 L339.1,550.5 L342.7,552.2 L347.6,578.9 L351.2,565.6 L354.8,566.8 L358.5,572.8 L363.3,587.4 L367.0,591.0 L371.8,593.5 L376.7,597.1 L380.8,600.7 L383.9,587.4 L387.6,575.8 L390.0,577.2 L392.4,582.1 L396.1,557.1 L400.4,547.4 L404.5,548.6 L408.7,542.5 L413.0,543.3 L416.2,541.3 L418.4,560.7 L421.5,571.6 L425.2,575.3 L428.8,577.2 L432.4,579.6 L436.1,563.2 L439.7,563.6 L442.1,566.8 L444.5,570.4 L449.4,541.3 L453.0,530.4 L456.7,521.9 L460.3,517.6 L463.9,517.1 L468.3,525.6 L472.4,519.0 L476.1,528.0 L480.4,540.1 L484.5,547.4 L488.2,540.1 L491.8,537.7 L496.7,536.5 L499.8,550.5 L502.7,550.5 L506.4,536.5 L508.8,531.6 L512.4,530.4 L516.1,530.4 L519.7,523.2 L523.3,519.5 L527.0,513.5 L531.8,505.5 L535.5,517.1 L539.1,536.5 L541.5,551.0 L543.9,559.5 L548.5,564.4 L552.6,553.5 L556.5,565.6 L560.6,577.2 L563.0,557.1 L566.2,550.5 L569.6,551.5 L572.7,560.7 L576.4,569.2 L580.0,558.3 L583.6,566.8 L588.5,575.3 L592.1,580.6 L596.2,584.5 L600.6,588.6 L604.2,580.1 L606.7,568.0 L609.1,558.3 L612.7,563.2 L616.4,546.2 L620.0,557.1 L623.6,568.5 L628.5,568.5 L633.3,568.5 L637.0,579.6 L640.6,581.3 L643.8,565.6 L646.7,562.7 L650.3,563.6 L652.7,567.5 L656.4,557.8 L660.0,570.4 L663.6,583.8 L667.3,585.0 L672.1,582.5 L675.8,585.0 L680.6,589.3 L684.2,581.3 L687.9,560.7 L691.5,553.9 L694.7,551.5 L698.8,554.7 L703.6,561.9 L708.5,558.3 L712.6,540.1 L716.5,541.8 L720.6,551.0 L724.2,559.5 L727.9,555.9 L730.3,553.9 L733.2,557.1 L736.8,529.2 L740.7,519.5 L744.8,510.3 L748.0,508.6 L752.1,524.4 L757.0,517.1 L761.1,511.0 L764.2,509.3 L767.9,505.5 L771.5,514.7 L776.4,520.0 L781.2,517.1 L787.3,514.2 L792.1,518.3 L794.5,532.8 L797.5,537.7 L800.6,535.3 L804.2,519.5 L807.9,516.6 L814.8,523.2 L819.7,521.9 L824.5,513.5 L828.2,514.2 L831.8,531.6 L836.2,552.2 L839.6,538.9 L843.9,534.1 L848.8,533.6 L852.4,522.4 L856.1,526.8 L859.7,523.2 L864.5,511.8 L868.2,509.8 L872.5,506.2 L875.5,508.6 L879.1,503.8 L883.9,502.1 L888.8,499.6 L892.4,498.2 L895.3,513.5 L899.7,508.6 L904.5,515.9 L908.2,520.7 L911.8,515.9 L916.7,508.6 L920.3,505.5 L925.2,504.5 L928.8,503.3 L932.4,517.6 L936.1,509.8 L939.7,515.9 L943.3,521.9 L945.8,532.8 L948.7,548.6 L951.8,555.9 L956.2,562.4 L960.3,548.6 L963.9,528.0 L968.3,536.0 L972.9,528.0 L976.8,541.3 L980.4,541.8 L984.1,548.1 L988.2,530.4 L991.8,536.5 L996.2,551.5 L1000.3,526.8 L1004.4,520.2 L1006.8,532.8 L1008.8,545.0" stroke="#000"/>
<path d="M0.0,570.4 L4.8,580.1 L8.5,583.0 L12.1,571.6 L17.0,565.1 L20.6,564.4 L24.2,557.1 L28.6,553.5 L32.7,553.9 L36.4,554.7 L40.0,558.3 L43.6,560.0 L47.8,561.2 L52.1,557.8 L55.8,557.6 L59.4,560.7 L64.2,563.9 L69.1,565.1 L72.7,568.0 L76.4,573.3 L80.5,562.7 L84.4,560.7 L88.5,555.9 L92.1,552.2 L96.5,547.4 L100.6,551.5 L104.7,554.7 L108.6,548.6 L112.0,545.0 L115.9,543.8 L118.8,545.7 L121.2,549.8 L124.1,557.1 L128.5,558.3 L137.0,558.3 L141.8,557.1 L145.5,553.9 L148.4,549.8 L150.8,554.7 L153.9,557.1 L157.6,556.6 L161.2,558.3 L168.5,558.3 L170.9,553.0 L174.5,547.4 L178.2,542.5 L183.0,540.1 L186.7,541.8 L191.5,546.2 L195.9,550.5 L200.0,543.8 L204.8,546.2 L208.0,544.2 L209.7,540.1 L212.1,530.4 L215.8,529.7 L219.4,526.8 L224.2,523.2 L227.9,524.4 L231.5,523.9 L240.0,521.9 L243.6,526.8 L247.8,528.0 L252.1,519.5 L256.5,514.2 L260.6,513.0 L265.5,511.8 L268.4,510.3 L272.4,520.7 L276.1,518.3 L279.7,534.1 L284.1,541.8 L288.2,538.4 L291.8,537.7 L295.5,551.0 L299.6,559.5 L303.9,555.4 L308.8,554.7 L312.4,555.4 L316.1,560.7 L320.9,560.7 L328.2,560.2 L331.8,558.3 L335.5,553.5 L339.1,551.5 L342.7,553.5 L347.6,565.6 L351.2,560.7 L354.8,561.9 L358.5,565.6 L363.3,574.1 L367.0,576.5 L371.8,579.6 L376.7,581.3 L380.8,585.0 L383.9,580.1 L387.6,575.8 L390.0,576.5 L392.4,578.2 L396.1,560.7 L400.4,558.3 L404.5,558.8 L408.7,555.9 L413.0,555.4 L416.2,553.9 L418.4,560.7 L421.5,569.2 L425.2,570.9 L428.8,571.6 L432.4,572.4 L436.1,565.1 L439.7,564.4 L442.1,565.6 L444.5,568.0 L449.4,555.9 L453.0,546.2 L456.7,539.4 L460.3,536.5 L463.9,536.0 L468.3,540.1 L472.4,535.3 L476.1,539.4 L480.4,544.2 L484.5,547.4 L488.2,543.8 L491.8,542.5 L496.7,542.5 L499.8,547.4 L502.7,547.4 L506.4,540.8 L508.8,538.9 L512.4,538.4 L516.1,537.7 L519.7,534.5 L523.3,532.8 L527.0,528.7 L531.8,523.6 L535.5,529.2 L539.1,539.4 L541.5,545.7 L545.2,549.8 L548.5,551.5 L552.6,548.1 L556.5,553.9 L560.6,561.9 L563.0,552.2 L566.2,549.8 L569.6,551.0 L572.7,554.7 L576.4,558.8 L580.0,555.4 L583.6,560.2 L588.5,565.6 L592.1,568.7 L596.2,571.6 L600.6,574.8 L604.2,570.4 L606.7,564.4 L609.1,559.0 L612.7,560.7 L616.4,553.5 L620.0,557.8 L623.6,563.6 L628.5,564.4 L633.3,564.4 L637.0,570.9 L640.6,572.1 L643.8,564.4 L646.7,563.2 L650.3,563.6 L652.7,565.1 L656.4,560.2 L660.0,566.8 L663.6,574.1 L667.3,575.8 L672.1,574.1 L675.8,575.8 L680.6,578.9 L684.2,574.8 L687.9,566.1 L691.5,563.6 L694.7,562.7 L698.8,563.6 L703.6,565.1 L708.5,562.7 L712.6,555.9 L716.5,556.4 L720.6,558.8 L724.2,561.2 L727.9,560.2 L733.2,560.2 L736.8,547.4 L740.7,540.1 L744.8,531.6 L748.0,530.4 L752.1,536.5 L757.0,531.2 L761.1,525.6 L764.2,524.4 L767.9,520.7 L771.5,524.4 L776.4,526.8 L781.2,526.1 L787.3,524.4 L792.1,525.6 L794.5,531.6 L797.5,535.3 L800.6,532.8 L804.2,525.6 L807.9,523.6 L814.8,526.3 L819.7,525.6 L824.5,521.5 L828.2,521.9 L831.8,530.4 L836.2,537.7 L839.6,534.1 L843.9,532.1 L848.8,531.6 L852.4,526.3 L856.1,528.0 L859.7,526.3 L864.5,520.7 L868.2,518.3 L872.5,517.1 L875.5,516.6 L879.1,514.2 L883.9,512.2 L888.8,510.3 L892.4,509.3 L895.3,514.2 L899.7,512.2 L904.5,516.6 L908.2,519.5 L911.8,517.1 L916.7,512.7 L920.3,511.0 L925.2,510.5 L928.8,509.8 L932.4,515.2 L936.1,512.2 L939.7,516.6 L943.3,520.7 L945.8,526.8 L948.7,532.8 L951.8,536.5 L956.2,540.8 L960.3,535.3 L963.9,529.2 L968.3,532.8 L972.9,529.2 L976.8,535.3 L980.4,535.3 L984.1,537.7 L988.2,530.4 L991.8,532.8 L996.2,541.8 L1000.3,529.2 L1004.4,525.6 L1006.8,531.6 L1008.8,537.7" stroke="#00f"/>
<path d="M0.0,569.2 L4.8,575.3 L8.5,578.2 L12.1,570.4 L17.0,566.1 L20.6,565.1 L24.2,560.2 L28.6,556.6 L32.7,557.1 L36.4,557.6 L40.0,559.5 L43.6,560.7 L47.8,561.9 L52.1,560.0 L55.8,559.8 L59.4,561.9 L64.2,564.4 L69.1,565.6 L72.7,567.5 L76.4,570.4 L80.5,563.2 L84.4,561.9 L88.5,558.8 L92.1,555.9 L96.5,552.7 L100.6,554.7 L104.7,557.1 L108.6,553.5 L112.0,551.0 L115.9,549.8 L118.8,550.5 L121.2,553.0 L124.1,557.8 L128.5,558.8 L137.0,558.8 L141.8,557.8 L145.5,555.9 L148.4,552.2 L150.8,555.9 L153.9,557.6 L157.6,557.3 L161.2,558.5 L168.5,558.5 L170.9,554.7 L174.5,551.0 L178.2,548.1 L183.0,546.7 L186.7,547.4 L191.5,549.8 L195.9,552.2 L200.0,548.6 L204.8,549.1 L208.0,548.1 L209.7,545.0 L212.1,538.4 L215.8,537.7 L219.4,536.0 L224.2,532.8 L227.9,533.6 L231.5,533.1 L240.0,531.2 L243.6,534.1 L247.8,535.5 L252.1,529.7 L256.5,524.4 L260.6,523.2 L265.5,521.5 L268.4,520.0 L272.4,526.8 L276.1,525.6 L279.7,535.3 L284.1,540.1 L288.2,537.7 L291.8,537.7 L295.5,547.4 L299.6,553.0 L303.9,551.0 L308.8,550.5 L312.4,551.5 L316.1,554.7 L320.9,555.2 L328.2,554.7 L331.8,553.5 L335.5,550.5 L339.1,549.3 L342.7,551.5 L347.6,558.3 L351.2,556.6 L354.8,557.1 L358.5,560.2 L363.3,566.1 L367.0,568.0 L371.8,569.9 L376.7,572.4 L380.8,575.3 L383.9,571.6 L387.6,568.7 L390.0,569.9 L392.4,571.6 L396.1,560.7 L400.4,559.5 L404.5,559.8 L408.7,557.1 L413.0,556.6 L416.2,555.9 L418.4,560.7 L421.5,565.6 L425.2,566.8 L428.8,567.5 L432.4,568.5 L436.1,563.6 L439.7,563.6 L442.1,564.4 L444.5,566.1 L449.4,557.1 L453.0,551.5 L456.7,546.7 L460.3,544.2 L463.9,543.3 L468.3,546.2 L472.4,541.8 L476.1,545.0 L480.4,548.1 L484.5,549.8 L488.2,546.2 L491.8,545.0 L496.7,545.0 L499.8,549.8 L502.7,549.8 L506.4,545.7 L508.8,544.2 L512.4,543.8 L516.1,543.3 L519.7,540.1 L523.3,538.9 L527.0,536.0 L531.8,532.1 L535.5,535.3 L539.1,541.8 L541.5,546.2 L545.2,548.6 L548.5,549.8 L552.6,547.4 L556.5,551.5 L560.6,557.1 L563.0,550.5 L566.2,548.6 L569.6,549.8 L572.7,553.0 L576.4,555.4 L580.0,553.0 L583.6,556.6 L588.5,560.7 L592.1,563.2 L596.2,565.6 L600.6,567.5 L604.2,565.1 L606.7,560.7 L609.1,558.3 L612.7,559.5 L616.4,553.9 L620.0,557.8 L623.6,561.9 L628.5,562.4 L633.3,562.4 L637.0,566.8 L640.6,567.5 L643.8,563.2 L646.7,562.4 L650.3,562.4 L652.7,563.6 L656.4,560.7 L660.0,565.1 L663.6,570.4 L667.3,571.6 L672.1,570.4 L675.8,571.6 L680.6,573.3 L684.2,570.9 L687.9,566.1 L691.5,564.4 L694.7,563.2 L698.8,563.9 L703.6,565.6 L708.5,563.6 L712.6,558.8 L716.5,558.8 L720.6,560.2 L724.2,562.4 L727.9,561.2 L733.2,560.7 L736.8,552.2 L740.7,547.4 L744.8,540.8 L748.0,539.4 L752.1,544.2 L757.0,539.4 L761.1,534.5 L764.2,534.1 L767.9,531.6 L771.5,533.6 L776.4,535.8 L781.2,534.5 L787.3,532.8 L792.1,532.8 L794.5,536.5 L797.5,538.4 L800.6,536.5 L804.2,532.1 L807.9,530.9 L814.8,532.4 L819.7,531.6 L824.5,528.7 L828.2,528.7 L831.8,533.6 L836.2,538.9 L839.6,536.0 L843.9,534.1 L848.8,533.6 L852.4,529.7 L856.1,531.6 L859.7,529.7 L864.5,526.3 L868.2,524.4 L872.5,522.7 L875.5,521.9 L879.1,520.2 L883.9,518.8 L888.8,517.1 L892.4,515.9 L895.3,519.5 L899.7,517.8 L904.5,520.2 L908.2,522.4 L911.8,520.2 L916.7,517.1 L920.3,515.9 L925.2,515.4 L928.8,515.2 L932.4,517.6 L936.1,516.6 L939.7,519.0 L943.3,521.9 L945.8,526.3 L948.7,529.7 L951.8,531.6 L956.2,534.1 L960.3,530.4 L963.9,526.8 L968.3,528.7 L972.9,526.8 L976.8,530.4 L980.4,530.9 L984.1,532.1 L988.2,529.2 L991.8,530.4 L996.2,535.3 L1000.3,527.3 L1004.4,525.6 L1006.8,529.7 L1008.8,535.3" stroke="#f00"/>
</g>
<g shape-rendering="crispEdges">
<rect x="-1" y="674" width="3" height="14" fill="#ffa07a"/>
<rect x="3" y="674" width="3" height="26" fill="#ffa07a"/>
<rect x="7" y="674" width="3" height="35" fill="#ffa07a"/>
<rect x="11" y="674" width="3" height="21" fill="#ffa07a"/>
<rect x="15" y="674" width="3" height="13" fill="#ffa07a"/>
<rect x="19" y="674" width="3" height="2" fill="#ffa07a"/>
<rect x="23" y="660" width="3" height="14" fill="#1e90ff"/>
<rect x="27" y="649" width="3" height="25" fill="#1e90ff"/>
<rect x="31" y="644" width="3" height="30" fill="#1e90ff"/>
<rect x="35" y="642" width="3" height="32" fill="#1e90ff"/>
<rect x="39" y="641" width="3" height="33" fill="#1e90ff"/>
<rect x="43" y="650" width="3" height="24" fill="#1e90ff"/>
<rect x="47" y="655" width="3" height="19" fill="#1e90ff"/>
<rect x="51" y="653" width="3" height="21" fill="#1e90ff"/>
<rect x="55" y="654" width="3" height="20" fill="#1e90ff"/>
<rect x="59" y="658" width="3" height="16" fill="#1e90ff"/>
<rect x="63" y="664" width="3" height="10" fill="#1e90ff"/>
<rect x="67" y="668" width="3" height="6" fill="#1e90ff"/>
<rect x="71" y="673" width="3" height="1" fill="#1e90ff"/>
<rect x="75" y="674" width="3" height="7" fill="#ffa07a"/>
<rect x="79" y="674" width="3" height="6" fill="#ffa07a"/>
<rect x="83" y="673" width="3" height="1" fill="#1e90ff"/>
<rect x="87" y="666" width="3" height="8" fill="#1e90ff"/>
<rect x="91" y="656" width="3" height="18" fill="#1e90ff"/>
<rect x="95" y="653" width="3" height="21" fill="#1e90ff"/>
<rect x="99" y="653" width="3" height="21" fill="#1e90ff"/>
<rect x="103" y="655" width="3" height="19" fill="#1e90ff"/>
<rect x="107" y="649" width="3" height="25" fill="#1e90ff"/>
<rect x="111" y="647" width="3" height="27" fill="#1e90ff"/>
<rect x="115" y="642" width="3" height="32" fill="#1e90ff"/>
<rect x="119" y="649" width="3" height="25" fill="#1e90ff"/>
<rect x="123" y="661" width="3" height="13" fill="#1e90ff"/>
<rect x="127" y="665" width="3" height="9" fill="#1e90ff"/>
<rect x="131" y="669" width="3" height="5" fill="#1e90ff"/>
<rect x="135" y="673" width="3" height="1" fill="#1e90ff"/>
<rect x="139" y="674" width="3" height="4" fill="#ffa07a"/>
<rect x="143" y="673" width="3" height="1" fill="#1e90ff"/>
<rect x="147" y="673" width="3" height="1" fill="#1e90ff"/>
<rect x="151" y="674" width="3" height="2" fill="#ffa07a"/>
<rect x="155" y="673" width="3" height="1" fill="#1e90ff"/>
<rect x="159" y="674" width="3" height="2" fill="#ffa07a"/>
<rect x="163" y="674" width="3" height="2" fill="#ffa07a"/>
<rect x="167" y="674" width="3" height="4" fill="#ffa07a"/>
<rect x="171" y="669" width="3" height="5" fill="#1e90ff"/>
<rect x="175" y="666" width="3" height="8" fill="#1e90ff"/>
<rect x="179" y="662" width="3" height="12" fill="#1e90ff"/>
<rect x="183" y="659" width="3" height="15" fill="#1e90ff"/>
<rect x="187" y="658" width="3" height="16" fill="#1e90ff"/>
<rect x="191" y="663" width="3" height="11" fill="#1e90ff"/>
<rect x="195" y="669" width="3" height="5" fill="#1e90ff"/>
<rect x="199" y="664" width="3" height="10" fill="#1e90ff"/>
<rect x="203" y="666" width="3" height="8" fill="#1e90ff"/>
<rect x="207" y="666" width="3" height="8" fill="#1e90ff"/>
<rect x="211" y="660" width="3" height="14" fill="#1e90ff"/>
<rect x="215" y="655" width="3" height="19" fill="#1e90ff"/>
<rect x="219" y="648" width="3" height="26" fill="#1e90ff"/>
<rect x="223" y="643" width="3" height="31" fill="#1e90ff"/>
<rect x="227" y="642" width="3" height="32" fill="#1e90ff"/>
<rect x="231" y="643" width="3" height="31" fill="#1e90ff"/>
<rect x="235" y="646" width="3" height="28" fill="#1e90ff"/>
<rect x="239" y="647" width="3" height="27" fill="#1e90ff"/>
<rect x="243" y="656" width="3" height="18" fill="#1e90ff"/>
<rect x="247" y="661" width="3" height="13" fill="#1e90ff"/>
<rect x="251" y="653" width="3" height="21" fill="#1e90ff"/>
<rect x="255" y="650" width="3" height="24" fill="#1e90ff"/>
<rect x="259" y="646" width="3" height="28" fill="#1e90ff"/>
<rect x="263" y="648" width="3" height="26" fill="#1e90ff"/>
<rect x="267" y="650" width="3" height="24" fill="#1e90ff"/>
<rect x="271" y="654" width="3" height="20" fill="#1e90ff"/>
<rect x="275" y="653" width="3" height="21" fill="#1e90ff"/>
<rect x="279" y="668" width="3" height="6" fill="#1e90ff"/>
<rect x="283" y="674" width="3" height="2" fill="#ffa07a"/>
<rect x="287" y="674" width="3" height="3" fill="#ffa07a"/>
<rect x="291" y="674" width="3" height="12" fill="#ffa07a"/>
<rect x="295" y="674" width="3" height="32" fill="#ffa07a"/>
<rect x="299" y="674" width="3" height="38" fill="#ffa07a"/>
<rect x="303" y="674" width="3" height="41" fill="#ffa07a"/>
<rect x="307" y="674" width="3" height="41" fill="#ffa07a"/>
<rect x="311" y="674" width="3" height="42" fill="#ffa07a"/>
<rect x="315" y="674" width="3" height="43" fill="#ffa07a"/>
<rect x="319" y="674" width="3" height="44" fill="#ffa07a"/>
<rect x="323" y="674" width="3" height="43" fill="#ffa07a"/>
<rect x="327" y="674" width="3" height="37" fill="#ffa07a"/>
<rect x="331" y="674" width="3" height="32" fill="#ffa07a"/>
<rect x="335" y="674" width="3" height="22" fill="#ffa07a"/>
<rect x="339" y="674" width="3" height="19" fill="#ffa07a"/>
<rect x="343" y="674" width="3" height="19" fill="#ffa07a"/>
<rect x="347" y="674" width="3" height="19" fill="#ffa07a"/>
<rect x="351" y="674" width="3" height="18" fill="#ffa07a"/>
<rect x="355" y="674" width="3" height="18" fill="#ffa07a"/>
<rect x="359" y="674" width="3" height="25" fill="#ffa07a"/>
<rect x="363" y="674" width="3" height="34" fill="#ffa07a"/>
<rect x="367" y="674" width="3" height="38" fill="#ffa07a"/>
<rect x="371" y="674" width="3" height="38" fill="#ffa07a"/>
<rect x="375" y="674" width="3" height="38" fill="#ffa07a"/>
<rect x="379" y="674" width="3" height="43" fill="#ffa07a"/>
<rect x="383" y="674" width="3" height="35" fill="#ffa07a"/>
<rect x="387" y="674" width="3" height="27" fill="#ffa07a"/>
<rect x="391" y="674" width="3" height="24" fill="#ffa07a"/>
<rect x="395" y="674" width="3" height="10" fill="#ffa07a"/>
<rect x="399" y="673" width="3" height="1" fill="#1e90ff"/>
<rect x="403" y="664" width="3" height="10" fill="#1e90ff"/>
<rect x="407" y="660" width="3" height="14" fill="#1e90ff"/>
<rect x="411" y="655" width="3" height="19" fill="#1e90ff"/>
<rect x="415" y="653" width="3" height="21" fill="#1e90ff"/>
<rect x="419" y="665" width="3" height="9" fill="#1e90ff"/>
<rect x="423" y="671" width="3" height="3" fill="#1e90ff"/>
<rect x="427" y="674" width="3" height="2" fill="#ffa07a"/>
<rect x="431" y="674" width="3" height="3" fill="#ffa07a"/>
<rect x="435" y="674" width="3" height="2" fill="#ffa07a"/>
<rect x="439" y="672" width="3" height="2" fill="#1e90ff"/>
<rect x="443" y="669" width="3" height="5" fill="#1e90ff"/>
<rect x="447" y="665" width="3" height="9" fill="#1e90ff"/>
<rect x="451" y="653" width="3" height="21" fill="#1e90ff"/>
<rect x="455" y="643" width="3" height="31" fill="#1e90ff"/>
<rect x="459" y="634" width="3" height="40" fill="#1e90ff"/>
<rect x="463" y="633" width="3" height="41" fill="#1e90ff"/>
<rect x="467" y="631" width="3" height="43" fill="#1e90ff"/>
<rect x="471" y="633" width="3" height="41" fill="#1e90ff"/>
<rect x="475" y="638" width="3" height="36" fill="#1e90ff"/>
<rect x="479" y="648" width="3" height="26" fill="#1e90ff"/>
<rect x="483" y="655" width="3" height="19" fill="#1e90ff"/>
<rect x="487" y="655" width="3" height="19" fill="#1e90ff"/>
<rect x="491" y="656" width="3" height="18" fill="#1e90ff"/>
<rect x="495" y="663" width="3" height="11" fill="#1e90ff"/>
<rect x="499" y="665" width="3" height="9" fill="#1e90ff"/>
<rect x="503" y="668" width="3" height="6" fill="#1e90ff"/>
<rect x="507" y="668" width="3" height="6" fill="#1e90ff"/>
<rect x="511" y="666" width="3" height="8" fill="#1e90ff"/>
<rect x="515" y="665" width="3" height="9" fill="#1e90ff"/>
<rect x="519" y="663" width="3" height="11" fill="#1e90ff"/>
<rect x="523" y="658" width="3" height="16" fill="#1e90ff"/>
<rect x="527" y="654" width="3" height="20" fill="#1e90ff"/>
<rect x="531" y="652" width="3" height="22" fill="#1e90ff"/>
<rect x="535" y="656" width="3" height="18" fill="#1e90ff"/>
<rect x="539" y="664" width="3" height="10" fill="#1e90ff"/>
<rect x="543" y="674" width="3" height="2" fill="#ffa07a"/>
<rect x="547" y="674" width="3" height="6" fill="#ffa07a"/>
<rect x="551" y="674" width="3" height="10" fill="#ffa07a"/>
<rect x="555" y="674" width="3" height="18" fill="#ffa07a"/>
<rect x="559" y="674" width="3" height="22" fill="#ffa07a"/>
<rect x="563" y="674" width="3" height="18" fill="#ffa07a"/>
<rect x="567" y="674" width="3" height="15" fill="#ffa07a"/>
<rect x="571" y="674" width="3" height="21" fill="#ffa07a"/>
<rect x="575" y="674" width="3" height="22" fill="#ffa07a"/>
<rect x="579" y="674" width="3" height="22" fill="#ffa07a"/>
<rect x="583" y="674" width="3" height="26" fill="#ffa07a"/>
<rect x="587" y="674" width="3" height="27" fill="#ffa07a"/>
<rect x="591" y="674" width="3" height="32" fill="#ffa07a"/>
<rect x="595" y="674" width="3" height="35" fill="#ffa07a"/>
<rect x="599" y="674" width="3" height="37" fill="#ffa07a"/>
<rect x="603" y="674" width="3" height="32" fill="#ffa07a"/>
<rect x="607" y="674" width="3" height="22" fill="#ffa07a"/>
<rect x="611" y="674" width="3" height="14" fill="#ffa07a"/>
<rect x="615" y="674" width="3" height="9" fill="#ffa07a"/>
<rect x="619" y="674" width="3" height="10" fill="#ffa07a"/>
<rect x="623" y="674" width="3" height="10" fill="#ffa07a"/>
<rect x="627" y="674" width="3" height="12" fill="#ffa07a"/>
<rect x="631" y="674" width="3" height="12" fill="#ffa07a"/>
<rect x="635" y="674" width="3" height="18" fill="#ffa07a"/>
<rect x="639" y="674" width="3" height="16" fill="#ffa07a"/>
<rect x="643" y="674" width="3" height="13" fill="#ffa07a"/>
<rect x="647" y="674" width="3" height="9" fill="#ffa07a"/>
<rect x="651" y="674" width="3" height="5" fill="#ffa07a"/>
<rect x="655" y="671" width="3" height="3" fill="#1e90ff"/>
<rect x="659" y="674" width="3" height="10" fill="#ffa07a"/>
<rect x="663" y="674" width="3" height="18" fill="#ffa07a"/>
<rect x="667" y="674" width="3" height="18" fill="#ffa07a"/>
<rect x="671" y="674" width="3" height="16" fill="#ffa07a"/>
<rect x="675" y="674" width="3" height="18" fill="#ffa07a"/>
<rect x="679" y="674" width="3" height="14" fill="#ffa07a"/>
<rect x="683" y="674" width="3" height="7" fill="#ffa07a"/>
<rect x="687" y="674" width="3" height="2" fill="#ffa07a"/>
<rect x="691" y="671" width="3" height="3" fill="#1e90ff"/>
<rect x="695" y="665" width="3" height="9" fill="#1e90ff"/>
<rect x="699" y="668" width="3" height="6" fill="#1e90ff"/>
<rect x="703" y="665" width="3" height="9" fill="#1e90ff"/>
<rect x="707" y="661" width="3" height="13" fill="#1e90ff"/>
<rect x="711" y="657" width="3" height="17" fill="#1e90ff"/>
<rect x="715" y="655" width="3" height="19" fill="#1e90ff"/>
<rect x="719" y="656" width="3" height="18" fill="#1e90ff"/>
<rect x="723" y="657" width="3" height="17" fill="#1e90ff"/>
<rect x="727" y="657" width="3" height="17" fill="#1e90ff"/>
<rect x="731" y="653" width="3" height="21" fill="#1e90ff"/>
<rect x="735" y="653" width="3" height="21" fill="#1e90ff"/>
<rect x="739" y="645" width="3" height="29" fill="#1e90ff"/>
<rect x="743" y="636" width="3" height="38" fill="#1e90ff"/>
<rect x="747" y="635" width="3" height="39" fill="#1e90ff"/>
<rect x="751" y="639" width="3" height="35" fill="#1e90ff"/>
<rect x="755" y="635" width="3" height="39" fill="#1e90ff"/>
<rect x="759" y="633" width="3" height="41" fill="#1e90ff"/>
<rect x="763" y="629" width="3" height="45" fill="#1e90ff"/>
<rect x="767" y="629" width="3" height="45" fill="#1e90ff"/>
<rect x="771" y="635" width="3" height="39" fill="#1e90ff"/>
<rect x="775" y="640" width="3" height="34" fill="#1e90ff"/>
<rect x="779" y="644" width="3" height="30" fill="#1e90ff"/>
<rect x="783" y="648" width="3" height="26" fill="#1e90ff"/>
<rect x="787" y="651" width="3" height="23" fill="#1e90ff"/>
<rect x="791" y="658" width="3" height="16" fill="#1e90ff"/>
<rect x="795" y="666" width="3" height="8" fill="#1e90ff"/>
<rect x="799" y="668" width="3" height="6" fill="#1e90ff"/>
<rect x="803" y="664" width="3" height="10" fill="#1e90ff"/>
<rect x="807" y="666" width="3" height="8" fill="#1e90ff"/>
<rect x="811" y="665" width="3" height="9" fill="#1e90ff"/>
<rect x="815" y="670" width="3" height="4" fill="#1e90ff"/>
<rect x="819" y="672" width="3" height="2" fill="#1e90ff"/>
<rect x="823" y="670" width="3" height="4" fill="#1e90ff"/>
<rect x="827" y="672" width="3" height="2" fill="#1e90ff"/>
<rect x="831" y="674" width="3" height="4" fill="#ffa07a"/>
<rect x="835" y="674" width="3" height="8" fill="#ffa07a"/>
<rect x="839" y="674" width="3" height="9" fill="#ffa07a"/>
<rect x="843" y="674" width="3" height="10" fill="#ffa07a"/>
<rect x="847" y="674" width="3" height="8" fill="#ffa07a"/>
<rect x="851" y="674" width="3" height="9" fill="#ffa07a"/>
<rect x="855" y="674" width="3" height="6" fill="#ffa07a"/>
<rect x="859" y="673" width="3" height="1" fill="#1e90ff"/>
<rect x="863" y="669" width="3" height="5" fill="#1e90ff"/>
<rect x="867" y="667" width="3" height="7" fill="#1e90ff"/>
<rect x="871" y="664" width="3" height="10" fill="#1e90ff"/>
<rect x="875" y="662" width="3" height="12" fill="#1e90ff"/>
<rect x="879" y="660" width="3" height="14" fill="#1e90ff"/>
<rect x="883" y="658" width="3" height="16" fill="#1e90ff"/>
<rect x="887" y="656" width="3" height="18" fill="#1e90ff"/>
<rect x="891" y="656" width="3" height="18" fill="#1e90ff"/>
<rect x="895" y="662" width="3" height="12" fill="#1e90ff"/>
<rect x="899" y="664" width="3" height="10" fill="#1e90ff"/>
<rect x="903" y="669" width="3" height="5" fill="#1e90ff"/>
<rect x="907" y="672" width="3" height="2" fill="#1e90ff"/>
<rect x="911" y="672" width="3" height="2" fill="#1e90ff"/>
<rect x="915" y="670" width="3" height="4" fill="#1e90ff"/>
<rect x="919" y="666" width="3" height="8" fill="#1e90ff"/>
<rect x="923" y="666" width="3" height="8" fill="#1e90ff"/>
<rect x="927" y="668" width="3" height="6" fill="#1e90ff"/>
<rect x="931" y="669" width="3" height="5" fill="#1e90ff"/>
<rect x="935" y="670" width="3" height="4" fill="#1e90ff"/>
<rect x="939" y="674" width="3" height="2" fill="#ffa07a"/>
<rect x="943" y="674" width="3" height="7" fill="#ffa07a"/>
<rect x="947" y="674" width="3" height="14" fill="#ffa07a"/>
<rect x="951" y="674" width="3" height="20" fill="#ffa07a"/>
<rect x="955" y="674" width="3" height="23" fill="#ffa07a"/>
<rect x="959" y="674" width="3" height="18" fill="#ffa07a"/>
<rect x="963" y="674" width="3" height="16" fill="#ffa07a"/>
<rect x="967" y="674" width="3" height="16" fill="#ffa07a"/>
<rect x="971" y="674" width="3" height="16" fill="#ffa07a"/>
<rect x="975" y="674" width="3" height="16" fill="#ffa07a"/>
<rect x="979" y="674" width="3" height="18" fill="#ffa07a"/>
<rect x="983" y="674" width="3" height="16" fill="#ffa07a"/>
<rect x="987" y="674" width="3" height="13" fill="#ffa07a"/>
<rect x="991" y="674" width="3" height="14" fill="#ffa07a"/>
<rect x="995" y="674" width="3" height="14" fill="#ffa07a"/>
<rect x="999" y="674" width="3" height="2" fill="#ffa07a"/>
<rect x="1003" y="669" width="3" height="5" fill="#1e90ff"/>
<rect x="1007" y="674" width="3" height="7" fill="#ffa07a"/>
</g>
<g fill="none" stroke-width="2" stroke-linejoin="round" shape-rendering="crispEdges">
<path d="M0.0,714.5 L8.5,727.1 L17.0,721.8 L21.8,716.2 L29.1,705.3 L38.8,696.8 L48.5,696.3 L53.3,693.6 L59.4,693.2 L65.5,695.1 L71.5,696.1 L76.4,699.7 L82.4,699.9 L88.5,694.4 L93.3,689.5 L99.4,685.9 L104.2,683.9 L110.3,678.6 L117.6,672.8 L123.6,675.5 L129.7,676.9 L135.8,678.6 L138.2,679.8 L145.5,679.8 L155.2,679.1 L164.8,679.3 L169.7,679.8 L174.5,676.2 L180.6,672.5 L186.7,669.6 L191.5,669.6 L196.4,670.6 L201.2,668.9 L208.5,667.2 L213.3,665.3 L218.2,661.6 L223.0,656.3 L229.1,649.5 L233.9,646.6 L240.0,645.2 L244.8,645.9 L248.5,645.9 L254.5,640.3 L260.6,635.0 L265.5,633.0 L271.5,631.3 L276.1,629.6 L279.7,633.8 L284.5,636.2 L290.6,641.0 L295.5,651.9 L301.5,658.0 L307.6,662.8 L313.6,668.9 L319.7,675.0 L324.5,678.6 L330.6,679.8 L337.9,679.1 L343.9,681.5 L350.0,682.7 L356.1,683.9 L362.1,690.7 L368.2,698.0 L374.2,704.1 L380.3,709.6 L386.4,710.8 L392.4,710.8 L398.5,705.3 L404.5,699.9 L410.6,695.1 L415.5,692.7 L420.3,693.9 L426.4,697.5 L432.4,697.5 L439.7,697.3 L445.8,696.1 L450.6,690.7 L455.5,682.2 L461.5,673.8 L467.6,667.7 L473.6,663.6 L479.7,663.6 L484.5,664.5 L489.4,662.8 L495.5,662.8 L501.5,664.1 L508.8,663.6 L514.8,661.6 L520.9,660.4 L527.0,656.3 L533.0,652.4 L536.7,651.9 L541.5,654.4 L544.8,658.0 L550.9,661.6 L557.0,667.7 L561.8,668.9 L567.9,668.9 L573.9,673.8 L580.0,676.2 L586.1,679.8 L592.1,687.1 L599.4,693.9 L606.7,693.9 L612.7,690.7 L618.8,690.7 L624.8,692.4 L630.9,693.6 L635.8,698.7 L641.8,698.7 L647.9,697.5 L653.9,697.5 L657.6,695.1 L663.6,702.8 L669.7,704.5 L675.8,707.7 L680.6,707.7 L686.7,705.8 L692.7,702.4 L697.6,699.2 L703.6,698.5 L709.7,694.4 L717.0,690.0 L724.2,688.3 L730.3,685.9 L736.4,682.2 L741.2,676.2 L747.3,667.7 L753.3,664.5 L759.4,658.0 L765.5,650.7 L770.3,647.1 L776.4,645.4 L782.4,644.2 L787.3,642.7 L793.3,643.0 L798.2,644.2 L805.5,642.7 L810.0,643.0 L819.7,642.7 L828.2,643.0 L834.2,646.6 L842.7,649.5 L851.2,649.5 L859.7,648.3 L868.2,643.5 L876.7,640.3 L883.9,637.4 L891.2,634.2 L900.9,634.2 L908.2,636.2 L915.5,635.0 L922.7,633.0 L930.0,632.1 L936.1,632.5 L942.1,636.2 L948.2,640.3 L955.5,645.4 L962.7,645.9 L970.0,647.8 L976.1,650.7 L982.1,652.7 L989.4,653.9 L996.7,655.1 L1002.7,650.0 L1006.4,650.2 L1008.8,653.2" stroke="#0000cd"/>
<path d="M0.0,709.6 L7.3,715.0 L13.3,717.9 L21.8,717.4 L31.5,712.5 L41.2,706.5 L50.9,701.6 L60.6,698.0 L70.3,696.8 L80.0,697.5 L88.5,696.8 L97.0,693.2 L106.7,688.3 L115.2,683.5 L121.2,680.5 L128.5,679.3 L138.2,679.1 L150.3,679.1 L164.8,679.1 L174.5,678.6 L181.8,676.9 L189.1,674.2 L196.4,672.8 L206.1,671.3 L213.3,669.4 L220.6,666.5 L227.9,661.6 L235.2,656.8 L242.4,653.2 L249.7,650.7 L257.0,645.9 L264.2,642.2 L270.0,639.8 L277.3,636.9 L284.5,636.2 L291.8,636.9 L299.1,642.2 L306.4,648.3 L313.6,654.4 L320.9,661.2 L328.2,667.7 L335.5,671.3 L342.7,675.0 L350.0,677.4 L357.3,680.5 L364.5,685.4 L371.8,690.7 L379.1,696.1 L386.4,701.6 L392.4,703.6 L398.5,703.6 L405.8,702.1 L413.0,699.9 L420.3,698.5 L427.6,697.5 L439.7,697.5 L447.0,696.8 L453.0,695.1 L459.1,690.7 L465.2,684.7 L471.2,678.6 L477.3,674.5 L483.3,671.8 L490.6,668.9 L497.9,666.5 L505.2,665.8 L512.4,664.5 L519.7,663.6 L527.0,661.2 L534.2,658.0 L540.3,656.8 L547.3,657.3 L554.5,660.4 L561.8,662.8 L569.1,665.3 L576.4,667.7 L583.6,671.3 L590.9,675.7 L598.2,681.5 L605.5,685.9 L612.7,687.8 L620.0,688.3 L627.3,690.2 L634.5,691.9 L641.8,694.8 L649.1,695.6 L656.4,696.1 L663.6,698.0 L670.9,700.4 L678.2,703.3 L685.5,704.1 L692.7,703.3 L700.0,702.1 L707.3,700.4 L714.5,697.5 L721.8,695.1 L729.1,692.4 L736.4,689.5 L743.6,684.7 L750.9,679.8 L758.2,673.3 L765.5,666.5 L772.7,659.2 L780.0,654.4 L787.3,650.7 L794.5,648.3 L801.8,646.6 L809.1,645.4 L810.0,645.9 L819.7,644.2 L828.2,643.5 L836.7,645.2 L845.2,646.6 L853.6,647.8 L862.1,647.8 L870.6,646.6 L879.1,644.7 L887.6,641.5 L896.1,638.6 L904.5,636.9 L913.0,636.2 L921.5,635.0 L930.0,633.8 L936.1,633.3 L943.3,635.0 L950.6,637.4 L957.9,639.8 L965.2,641.8 L972.4,644.2 L979.7,647.1 L987.0,649.0 L994.2,650.7 L1001.5,650.7 L1008.8,650.7" stroke="#ff8c00"/>
</g>
<circle cx="1008.3" cy="673.6" r="44" fill="none" stroke="#f25555" stroke-width="2.2"/>
<g fill="#000" shape-rendering="crispEdges">
<rect x="0" y="485" width="1090" height="1"/>
<rect x="0" y="487" width="1090" height="1"/>
<rect x="0" y="615" width="1090" height="1"/>
<rect x="0" y="617" width="1090" height="1"/>
<rect x="0" y="736" width="1090" height="1"/>
<rect x="1089" y="0" width="1" height="485"/>
<rect x="1089" y="487" width="1" height="128"/>
<rect x="1089" y="617" width="1" height="119"/>
<rect x="1090" y="25" width="2" height="1"/>
<rect x="1090" y="74" width="2" height="1"/>
<rect x="1090" y="123" width="2" height="1"/>
<rect x="1090" y="172" width="2" height="1"/>
<rect x="1090" y="221" width="2" height="1"/>
<rect x="1090" y="270" width="2" height="1"/>
<rect x="1090" y="319" width="2" height="1"/>
<rect x="1090" y="368" width="2" height="1"/>
<rect x="1090" y="417" width="2" height="1"/>
<rect x="1090" y="466" width="2" height="1"/>
<rect x="1090" y="489" width="2" height="1"/>
<rect x="1090" y="674" width="2" height="1"/>
<rect x="8" y="737" width="1" height="3"/>
<rect x="104" y="737" width="1" height="3"/>
<rect x="200" y="737" width="1" height="3"/>
<rect x="296" y="737" width="1" height="3"/>
<rect x="392" y="737" width="1" height="3"/>
<rect x="488" y="737" width="1" height="3"/>
<rect x="584" y="737" width="1" height="3"/>
<rect x="680" y="737" width="1" height="3"/>
<rect x="776" y="737" width="1" height="3"/>
<rect x="872" y="737" width="1" height="3"/>
<rect x="968" y="737" width="1" height="3"/>
</g>
<text x="1096.5" y="29.5" fill="#000" textLength="44.5" lengthAdjust="spacingAndGlyphs">0.67065</text>
<text x="1096.5" y="127.5" fill="#000" textLength="44.5" lengthAdjust="spacingAndGlyphs">0.66290</text>
<text x="1096.5" y="225.5" fill="#000" textLength="44.5" lengthAdjust="spacingAndGlyphs">0.65520</text>
<text x="1096.5" y="274.5" fill="#000" textLength="44.5" lengthAdjust="spacingAndGlyphs">0.65135</text>
<text x="1096.5" y="323.5" fill="#000" textLength="44.5" lengthAdjust="spacingAndGlyphs">0.64750</text>
<text x="1096.5" y="372.5" fill="#000" textLength="44.5" lengthAdjust="spacingAndGlyphs">0.64365</text>
<text x="1096.5" y="421.5" fill="#000" textLength="44.5" lengthAdjust="spacingAndGlyphs">0.63980</text>
<text x="1096.5" y="470.5" fill="#000" textLength="44.5" lengthAdjust="spacingAndGlyphs">0.63595</text>
<rect x="1091" y="55" width="56" height="28" fill="#f00" shape-rendering="crispEdges"/>
<text x="1096.5" y="67" fill="#fff" textLength="44.5" lengthAdjust="spacingAndGlyphs">0.66779</text>
<text x="1096.5" y="80.8" fill="#fff" textLength="44.5" lengthAdjust="spacingAndGlyphs">0.66673</text>
<rect x="1091" y="111" width="56" height="14" fill="#000" shape-rendering="crispEdges"/>
<text x="1096.5" y="122.6" fill="#fff" textLength="44.5" lengthAdjust="spacingAndGlyphs">0.66336</text>
<rect x="1091" y="155" width="56" height="27" fill="#f00" shape-rendering="crispEdges"/>
<text x="1096.5" y="167" fill="#fff" textLength="44.5" lengthAdjust="spacingAndGlyphs">0.65994</text>
<text x="1096.5" y="180" fill="#fff" textLength="44.5" lengthAdjust="spacingAndGlyphs">0.65892</text>
<text x="1093" y="500.6" fill="#000" textLength="20.5" lengthAdjust="spacingAndGlyphs">100</text>
<text x="1093" y="556" fill="#000" textLength="13.5" lengthAdjust="spacingAndGlyphs">50</text>
<text x="1093" y="612.5" fill="#000" textLength="6.8" lengthAdjust="spacingAndGlyphs">0</text>
<rect x="1091" y="501" width="56" height="14" fill="#f00" shape-rendering="crispEdges"/>
<text x="1096.5" y="512.5" fill="#fff" textLength="44.5" lengthAdjust="spacingAndGlyphs">85.0000</text>
<rect x="1091" y="520" width="56" height="14" fill="#f00" shape-rendering="crispEdges"/>
<text x="1096.5" y="531.5" fill="#fff" textLength="44.5" lengthAdjust="spacingAndGlyphs">70.0000</text>
<rect x="1091" y="571" width="56" height="14" fill="#00f" shape-rendering="crispEdges"/>
<text x="1096.5" y="582.5" fill="#fff" textLength="44.5" lengthAdjust="spacingAndGlyphs">30.0000</text>
<rect x="1091" y="590" width="56" height="14" fill="#00f" shape-rendering="crispEdges"/>
<text x="1096.5" y="601.5" fill="#fff" textLength="44.5" lengthAdjust="spacingAndGlyphs">15.0000</text>
<text x="1093.6" y="631" fill="#000" textLength="58.5" lengthAdjust="spacingAndGlyphs">0.0026683</text>
<text x="1093.6" y="679" fill="#000" textLength="24" lengthAdjust="spacingAndGlyphs">0.00</text>
<text x="1093.6" y="732.5" fill="#000" textLength="56" lengthAdjust="spacingAndGlyphs">-0.002913</text>
<text x="7.7" y="752" fill="#000" textLength="72.7" lengthAdjust="spacingAndGlyphs">14 Oct 12:00</text>
<text x="103.7" y="752" fill="#000" textLength="72.7" lengthAdjust="spacingAndGlyphs">20 Oct 12:00</text>
<text x="199.7" y="752" fill="#000" textLength="72.7" lengthAdjust="spacingAndGlyphs">24 Oct 12:00</text>
<text x="295.7" y="752" fill="#000" textLength="72.7" lengthAdjust="spacingAndGlyphs">30 Oct 12:00</text>
<text x="391.7" y="752" fill="#000" textLength="66.7" lengthAdjust="spacingAndGlyphs">5 Nov 12:00</text>
<text x="487.7" y="752" fill="#000" textLength="72.7" lengthAdjust="spacingAndGlyphs">11 Nov 12:00</text>
<text x="583.7" y="752" fill="#000" textLength="72.7" lengthAdjust="spacingAndGlyphs">17 Nov 12:00</text>
<text x="679.7" y="752" fill="#000" textLength="72.7" lengthAdjust="spacingAndGlyphs">21 Nov 12:00</text>
<text x="775.7" y="752" fill="#000" textLength="72.7" lengthAdjust="spacingAndGlyphs">27 Nov 12:00</text>
<text x="871.7" y="752" fill="#000" textLength="66.7" lengthAdjust="spacingAndGlyphs">3 Dec 12:00</text>
<text x="967.7" y="752" fill="#000" textLength="66.7" lengthAdjust="spacingAndGlyphs">9 Dec 12:00</text>
</svg>
</body></html>
